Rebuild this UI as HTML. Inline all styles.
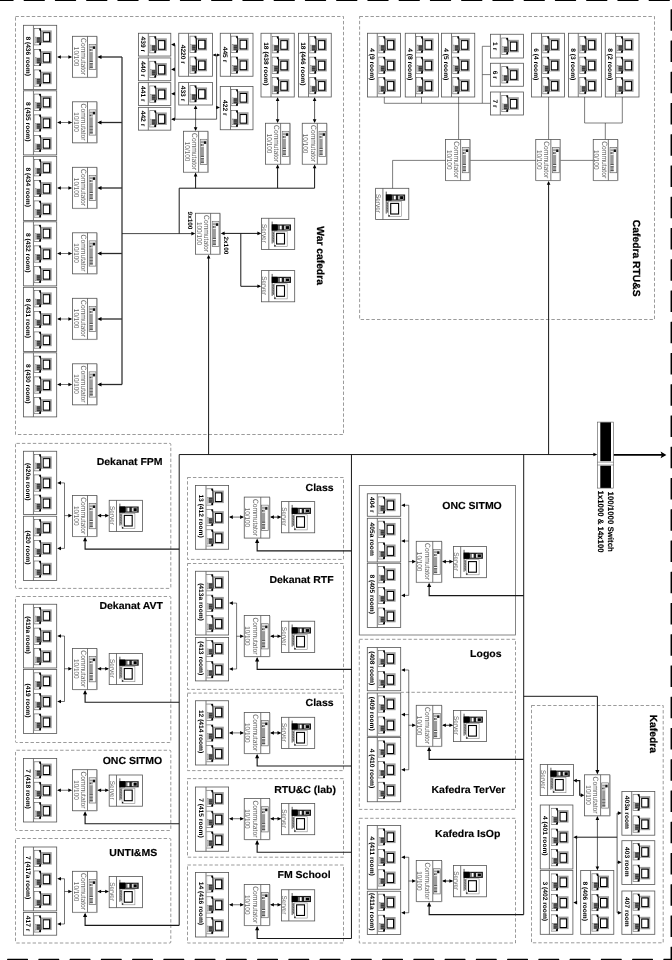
<!DOCTYPE html>
<html lang="en">
<head>
<meta charset="utf-8">
<title>Network diagram</title>
<style>
html,body{margin:0;padding:0;background:#fff;}
body{width:672px;height:960px;overflow:hidden;}
svg{display:block;will-change:transform;}
svg text{font-family:"Liberation Sans",Arial,sans-serif;text-rendering:geometricPrecision;}
</style>
</head>
<body>
<svg width="672" height="960" viewBox="0 0 672 960">
<rect x="0" y="0" width="672" height="960" fill="#fff"/>
<defs>
<g id="pc">
<rect x="1.3" y="-8.1" width="6.1" height="16.3" fill="#fff" stroke="#6a6a6a" stroke-width="0.7"/>
<line x1="1.3" y1="-7.6" x2="1.3" y2="7.8" stroke="#d0d0d0" stroke-width="0.9"/>
<rect x="3.1" y="0.3" width="4.2" height="6.0" fill="#6a6a6a"/>
<rect x="1.9" y="0.3" width="1.2" height="6.0" fill="#ddd" stroke="#888" stroke-width="0.4"/>
<path d="M3.6 1.6h3.4M3.6 3.3h3.4M3.6 5h3.4" stroke="#222" stroke-width="0.7"/>
<path d="M5.6 -8.1 L7.5 -8.1 L7.9 -5.8 L6.4 -5.9 Z" fill="#000"/>
<path d="M6 6.3 L7.9 5.4 L7.6 8.2 L5.8 8.2 Z" fill="#000"/>
<line x1="7.6" y1="-6.2" x2="8" y2="5.8" stroke="#000" stroke-width="1"/>
<rect x="8.3" y="-6.3" width="10.1" height="12.5" fill="#9c9c9c"/>
<rect x="8.5" y="-4.6" width="1.1" height="10.2" fill="#fff"/>
<rect x="9.9" y="-4" width="6.4" height="8.6" fill="#fff" stroke="#000" stroke-width="1"/>
<line x1="16.5" y1="-4.2" x2="16.5" y2="5" stroke="#000" stroke-width="0.7"/>
</g>
<g id="comm">
<rect x="16.8" y="8.1" width="6.7" height="25.2" fill="#fff" stroke="#707070" stroke-width="0.75"/>
<rect x="17.3" y="9.6" width="3.1" height="22.4" fill="#9a9a9a"/>
<rect x="17.3" y="8.6" width="5.7" height="1.4" fill="#ddd"/>
<rect x="17.3" y="11.7" width="3.1" height="0.8" fill="#fff"/>
<rect x="17.3" y="14.7" width="3.1" height="0.8" fill="#fff"/>
<rect x="17.3" y="25.7" width="3.1" height="0.9" fill="#fff"/>
<rect x="17.3" y="13.1" width="1.2" height="1.2" fill="#444"/>
<rect x="17.3" y="24.7" width="3.1" height="0.8" fill="#444"/>
<rect x="17.3" y="27" width="3.1" height="0.8" fill="#555"/>
<rect x="17.3" y="30.6" width="3.1" height="0.8" fill="#444"/>
<rect x="20.4" y="10" width="2.3" height="2.6" fill="#111"/>
</g>
<g id="srv">
<rect x="0" y="0" width="33.2" height="31.2" fill="#fff" stroke="#555" stroke-width="0.8"/>
<line x1="7.3" y1="0" x2="7.3" y2="31.2" stroke="#555" stroke-width="0.8"/>
<rect x="10.1" y="3.3" width="1.1" height="22" fill="#666"/>
<rect x="10.9" y="13.2" width="1.9" height="11.2" fill="#888"/>
<path d="M11 14.5l1.7 1.2M11 17l1.7 1.2M11 19.5l1.7 1.2M11 22l1.7 1.2" stroke="#333" stroke-width="0.5"/>
<rect x="10.3" y="6.2" width="19.2" height="6.1" fill="#1c1c1c"/>
<rect x="10.3" y="6.2" width="5.6" height="6.1" fill="#000"/>
<rect x="18.1" y="7.4" width="2.1" height="3.8" fill="#fff"/>
<rect x="16.6" y="7.2" width="1.2" height="4.2" fill="#777"/>
<rect x="22.6" y="7.4" width="1.4" height="3.8" fill="#ddd"/>
<rect x="24.2" y="7.6" width="3.6" height="3.4" fill="#000" stroke="#ccc" stroke-width="0.6"/>
<rect x="12.8" y="13.2" width="12.9" height="15.1" fill="#fff" stroke="#888" stroke-width="0.6"/>
<rect x="15.1" y="15.1" width="7.9" height="10.6" fill="#fff" stroke="#000" stroke-width="1.1"/>
<rect x="12.9" y="26.8" width="1.2" height="1.4" fill="#000"/>
</g>
</defs>
<rect x="-7.6" y="-1" width="21.2" height="1.9" rx="0.4" fill="#000"/>
<rect x="23.65" y="-1" width="21.2" height="1.9" rx="0.4" fill="#000"/>
<rect x="54.9" y="-1" width="21.2" height="1.9" rx="0.4" fill="#000"/>
<rect x="86.15" y="-1" width="21.2" height="1.9" rx="0.4" fill="#000"/>
<rect x="117.4" y="-1" width="21.2" height="1.9" rx="0.4" fill="#000"/>
<rect x="148.65" y="-1" width="21.2" height="1.9" rx="0.4" fill="#000"/>
<rect x="179.9" y="-1" width="21.2" height="1.9" rx="0.4" fill="#000"/>
<rect x="211.15" y="-1" width="21.2" height="1.9" rx="0.4" fill="#000"/>
<rect x="242.4" y="-1" width="21.2" height="1.9" rx="0.4" fill="#000"/>
<rect x="273.65" y="-1" width="21.2" height="1.9" rx="0.4" fill="#000"/>
<rect x="304.9" y="-1" width="21.2" height="1.9" rx="0.4" fill="#000"/>
<rect x="336.15" y="-1" width="21.2" height="1.9" rx="0.4" fill="#000"/>
<rect x="367.4" y="-1" width="21.2" height="1.9" rx="0.4" fill="#000"/>
<rect x="398.65" y="-1" width="21.2" height="1.9" rx="0.4" fill="#000"/>
<rect x="429.9" y="-1" width="21.2" height="1.9" rx="0.4" fill="#000"/>
<rect x="461.15" y="-1" width="21.2" height="1.9" rx="0.4" fill="#000"/>
<rect x="492.4" y="-1" width="21.2" height="1.9" rx="0.4" fill="#000"/>
<rect x="523.65" y="-1" width="21.2" height="1.9" rx="0.4" fill="#000"/>
<rect x="554.9" y="-1" width="21.2" height="1.9" rx="0.4" fill="#000"/>
<rect x="586.15" y="-1" width="21.2" height="1.9" rx="0.4" fill="#000"/>
<rect x="617.4" y="-1" width="21.2" height="1.9" rx="0.4" fill="#000"/>
<rect x="648.65" y="-1" width="21.2" height="1.9" rx="0.4" fill="#000"/>
<rect x="670.55" y="-22.05" width="2.5" height="21.6" rx="0.4" fill="#000"/>
<rect x="670.55" y="9.2" width="2.5" height="21.6" rx="0.4" fill="#000"/>
<rect x="670.55" y="40.45" width="2.5" height="21.6" rx="0.4" fill="#000"/>
<rect x="670.55" y="71.7" width="2.5" height="21.6" rx="0.4" fill="#000"/>
<rect x="670.55" y="102.95" width="2.5" height="21.6" rx="0.4" fill="#000"/>
<rect x="670.55" y="134.2" width="2.5" height="21.6" rx="0.4" fill="#000"/>
<rect x="670.55" y="165.45" width="2.5" height="21.6" rx="0.4" fill="#000"/>
<rect x="670.55" y="196.7" width="2.5" height="21.6" rx="0.4" fill="#000"/>
<rect x="670.55" y="227.95" width="2.5" height="21.6" rx="0.4" fill="#000"/>
<rect x="670.55" y="259.2" width="2.5" height="21.6" rx="0.4" fill="#000"/>
<rect x="670.55" y="290.45" width="2.5" height="21.6" rx="0.4" fill="#000"/>
<rect x="670.55" y="321.7" width="2.5" height="21.6" rx="0.4" fill="#000"/>
<rect x="670.55" y="352.95" width="2.5" height="21.6" rx="0.4" fill="#000"/>
<rect x="670.55" y="384.2" width="2.5" height="21.6" rx="0.4" fill="#000"/>
<rect x="670.55" y="415.45" width="2.5" height="21.6" rx="0.4" fill="#000"/>
<rect x="670.55" y="446.7" width="2.5" height="21.6" rx="0.4" fill="#000"/>
<rect x="670.55" y="477.95" width="2.5" height="21.6" rx="0.4" fill="#000"/>
<rect x="670.55" y="509.2" width="2.5" height="21.6" rx="0.4" fill="#000"/>
<rect x="670.55" y="540.45" width="2.5" height="21.6" rx="0.4" fill="#000"/>
<rect x="670.55" y="571.7" width="2.5" height="21.6" rx="0.4" fill="#000"/>
<rect x="670.55" y="602.95" width="2.5" height="21.6" rx="0.4" fill="#000"/>
<rect x="670.55" y="634.2" width="2.5" height="21.6" rx="0.4" fill="#000"/>
<rect x="670.55" y="665.45" width="2.5" height="21.6" rx="0.4" fill="#000"/>
<rect x="670.55" y="696.7" width="2.5" height="21.6" rx="0.4" fill="#000"/>
<rect x="670.55" y="727.95" width="2.5" height="21.6" rx="0.4" fill="#000"/>
<rect x="670.55" y="759.2" width="2.5" height="21.6" rx="0.4" fill="#000"/>
<rect x="670.55" y="790.45" width="2.5" height="21.6" rx="0.4" fill="#000"/>
<rect x="670.55" y="821.7" width="2.5" height="21.6" rx="0.4" fill="#000"/>
<rect x="670.55" y="852.95" width="2.5" height="21.6" rx="0.4" fill="#000"/>
<rect x="670.55" y="884.2" width="2.5" height="21.6" rx="0.4" fill="#000"/>
<rect x="670.55" y="915.45" width="2.5" height="21.6" rx="0.4" fill="#000"/>
<rect x="670.55" y="946.7" width="2.5" height="21.6" rx="0.4" fill="#000"/>
<rect x="7.1" y="958.85" width="20.9" height="2" rx="0.4" fill="#000"/>
<rect x="38.35" y="958.85" width="20.9" height="2" rx="0.4" fill="#000"/>
<rect x="69.6" y="958.85" width="20.9" height="2" rx="0.4" fill="#000"/>
<rect x="100.85" y="958.85" width="20.9" height="2" rx="0.4" fill="#000"/>
<rect x="132.1" y="958.85" width="20.9" height="2" rx="0.4" fill="#000"/>
<rect x="163.35" y="958.85" width="20.9" height="2" rx="0.4" fill="#000"/>
<rect x="194.6" y="958.85" width="20.9" height="2" rx="0.4" fill="#000"/>
<rect x="225.85" y="958.85" width="20.9" height="2" rx="0.4" fill="#000"/>
<rect x="257.1" y="958.85" width="20.9" height="2" rx="0.4" fill="#000"/>
<rect x="288.35" y="958.85" width="20.9" height="2" rx="0.4" fill="#000"/>
<rect x="319.6" y="958.85" width="20.9" height="2" rx="0.4" fill="#000"/>
<rect x="350.85" y="958.85" width="20.9" height="2" rx="0.4" fill="#000"/>
<rect x="382.1" y="958.85" width="20.9" height="2" rx="0.4" fill="#000"/>
<rect x="413.35" y="958.85" width="20.9" height="2" rx="0.4" fill="#000"/>
<rect x="444.6" y="958.85" width="20.9" height="2" rx="0.4" fill="#000"/>
<rect x="475.85" y="958.85" width="20.9" height="2" rx="0.4" fill="#000"/>
<rect x="507.1" y="958.85" width="20.9" height="2" rx="0.4" fill="#000"/>
<rect x="538.35" y="958.85" width="20.9" height="2" rx="0.4" fill="#000"/>
<rect x="569.6" y="958.85" width="20.9" height="2" rx="0.4" fill="#000"/>
<rect x="600.85" y="958.85" width="20.9" height="2" rx="0.4" fill="#000"/>
<rect x="632.1" y="958.85" width="20.9" height="2" rx="0.4" fill="#000"/>
<rect x="663.35" y="958.85" width="20.9" height="2" rx="0.4" fill="#000"/>
<rect x="15.5" y="16.5" width="328" height="418" fill="none" stroke="#707070" stroke-width="0.7" stroke-dasharray="3.4 2.05"/>
<rect x="23.4" y="25.3" width="33.3" height="64.1" fill="none" stroke="#555" stroke-width="0.8"/>
<line x1="33.45" y1="25.3" x2="33.45" y2="89.4" stroke="#555" stroke-width="0.8"/>
<text transform="translate(26.22 36.38) rotate(90)" textLength="39.54" lengthAdjust="spacingAndGlyphs" font-size="6.55" font-weight="bold" stroke="#000" stroke-width="0" fill="#000">8 (436 room)</text>
<use href="#pc" x="33.3" y="36.7"/>
<use href="#pc" x="33.3" y="57.45"/>
<use href="#pc" x="33.3" y="78"/>
<rect x="72.4" y="36.3" width="24.4" height="41" fill="#fff" stroke="#555" stroke-width="0.8"/>
<line x1="97.1" y1="36.6" x2="97.1" y2="77.6" stroke="#a0a0a0" stroke-width="1.0"/>
<line x1="72.7" y1="77.6" x2="97.1" y2="77.6" stroke="#b0b0b0" stroke-width="0.5"/>
<line x1="87.5" y1="36.3" x2="87.5" y2="77.3" stroke="#555" stroke-width="0.8"/>
<use href="#comm" x="72.4" y="36.3"/>
<text transform="translate(80.83 38.1) rotate(90)" textLength="37" lengthAdjust="spacingAndGlyphs" font-size="7.7" fill="#666">Commutator</text>
<text transform="translate(73.54 46.85) rotate(90)" textLength="19.5" lengthAdjust="spacingAndGlyphs" font-size="7.1" fill="#666">10/100</text>
<line x1="58.1" y1="57" x2="71.2" y2="57" stroke="#181818" stroke-width="0.6"/>
<polygon points="57.1,57 60.9,55.2 60.9,58.8" fill="#000"/>
<polygon points="72.2,57 68.4,55.2 68.4,58.8" fill="#000"/>
<line x1="99" y1="57" x2="122" y2="57" stroke="#2a2a2a" stroke-width="1.3"/>
<polygon points="97.3,57 101.5,54.9 101.5,59.1" fill="#000"/>
<rect x="23.4" y="90.8" width="33.3" height="64.1" fill="none" stroke="#555" stroke-width="0.8"/>
<line x1="33.45" y1="90.8" x2="33.45" y2="154.9" stroke="#555" stroke-width="0.8"/>
<text transform="translate(26.22 101.88) rotate(90)" textLength="39.54" lengthAdjust="spacingAndGlyphs" font-size="6.55" font-weight="bold" stroke="#000" stroke-width="0" fill="#000">8 (435 room)</text>
<use href="#pc" x="33.3" y="102.2"/>
<use href="#pc" x="33.3" y="122.95"/>
<use href="#pc" x="33.3" y="143.5"/>
<rect x="72.4" y="101.8" width="24.4" height="41" fill="#fff" stroke="#555" stroke-width="0.8"/>
<line x1="97.1" y1="102.1" x2="97.1" y2="143.1" stroke="#a0a0a0" stroke-width="1.0"/>
<line x1="72.7" y1="143.1" x2="97.1" y2="143.1" stroke="#b0b0b0" stroke-width="0.5"/>
<line x1="87.5" y1="101.8" x2="87.5" y2="142.8" stroke="#555" stroke-width="0.8"/>
<use href="#comm" x="72.4" y="101.8"/>
<text transform="translate(80.83 103.6) rotate(90)" textLength="37" lengthAdjust="spacingAndGlyphs" font-size="7.7" fill="#666">Commutator</text>
<text transform="translate(73.54 112.35) rotate(90)" textLength="19.5" lengthAdjust="spacingAndGlyphs" font-size="7.1" fill="#666">10/100</text>
<line x1="58.1" y1="122.5" x2="71.2" y2="122.5" stroke="#181818" stroke-width="0.6"/>
<polygon points="57.1,122.5 60.9,120.7 60.9,124.3" fill="#000"/>
<polygon points="72.2,122.5 68.4,120.7 68.4,124.3" fill="#000"/>
<line x1="99" y1="122.5" x2="122" y2="122.5" stroke="#2a2a2a" stroke-width="1.3"/>
<polygon points="97.3,122.5 101.5,120.4 101.5,124.6" fill="#000"/>
<rect x="23.4" y="156.3" width="33.3" height="64.1" fill="none" stroke="#555" stroke-width="0.8"/>
<line x1="33.45" y1="156.3" x2="33.45" y2="220.4" stroke="#555" stroke-width="0.8"/>
<text transform="translate(26.22 167.38) rotate(90)" textLength="39.54" lengthAdjust="spacingAndGlyphs" font-size="6.55" font-weight="bold" stroke="#000" stroke-width="0" fill="#000">8 (434 room)</text>
<use href="#pc" x="33.3" y="167.7"/>
<use href="#pc" x="33.3" y="188.45"/>
<use href="#pc" x="33.3" y="209"/>
<rect x="72.4" y="167.3" width="24.4" height="41" fill="#fff" stroke="#555" stroke-width="0.8"/>
<line x1="97.1" y1="167.6" x2="97.1" y2="208.6" stroke="#a0a0a0" stroke-width="1.0"/>
<line x1="72.7" y1="208.6" x2="97.1" y2="208.6" stroke="#b0b0b0" stroke-width="0.5"/>
<line x1="87.5" y1="167.3" x2="87.5" y2="208.3" stroke="#555" stroke-width="0.8"/>
<use href="#comm" x="72.4" y="167.3"/>
<text transform="translate(80.83 169.1) rotate(90)" textLength="37" lengthAdjust="spacingAndGlyphs" font-size="7.7" fill="#666">Commutator</text>
<text transform="translate(73.54 177.85) rotate(90)" textLength="19.5" lengthAdjust="spacingAndGlyphs" font-size="7.1" fill="#666">10/100</text>
<line x1="58.1" y1="188" x2="71.2" y2="188" stroke="#181818" stroke-width="0.6"/>
<polygon points="57.1,188 60.9,186.2 60.9,189.8" fill="#000"/>
<polygon points="72.2,188 68.4,186.2 68.4,189.8" fill="#000"/>
<line x1="99" y1="188" x2="122" y2="188" stroke="#2a2a2a" stroke-width="1.3"/>
<polygon points="97.3,188 101.5,185.9 101.5,190.1" fill="#000"/>
<rect x="23.4" y="221.8" width="33.3" height="64.1" fill="none" stroke="#555" stroke-width="0.8"/>
<line x1="33.45" y1="221.8" x2="33.45" y2="285.9" stroke="#555" stroke-width="0.8"/>
<text transform="translate(26.22 232.88) rotate(90)" textLength="39.54" lengthAdjust="spacingAndGlyphs" font-size="6.55" font-weight="bold" stroke="#000" stroke-width="0" fill="#000">8 (432 room)</text>
<use href="#pc" x="33.3" y="233.2"/>
<use href="#pc" x="33.3" y="253.95"/>
<use href="#pc" x="33.3" y="274.5"/>
<rect x="72.4" y="232.8" width="24.4" height="41" fill="#fff" stroke="#555" stroke-width="0.8"/>
<line x1="97.1" y1="233.1" x2="97.1" y2="274.1" stroke="#a0a0a0" stroke-width="1.0"/>
<line x1="72.7" y1="274.1" x2="97.1" y2="274.1" stroke="#b0b0b0" stroke-width="0.5"/>
<line x1="87.5" y1="232.8" x2="87.5" y2="273.8" stroke="#555" stroke-width="0.8"/>
<use href="#comm" x="72.4" y="232.8"/>
<text transform="translate(80.83 234.6) rotate(90)" textLength="37" lengthAdjust="spacingAndGlyphs" font-size="7.7" fill="#666">Commutator</text>
<text transform="translate(73.54 243.35) rotate(90)" textLength="19.5" lengthAdjust="spacingAndGlyphs" font-size="7.1" fill="#666">10/100</text>
<line x1="58.1" y1="253.5" x2="71.2" y2="253.5" stroke="#181818" stroke-width="0.6"/>
<polygon points="57.1,253.5 60.9,251.7 60.9,255.3" fill="#000"/>
<polygon points="72.2,253.5 68.4,251.7 68.4,255.3" fill="#000"/>
<line x1="99" y1="253.5" x2="122" y2="253.5" stroke="#2a2a2a" stroke-width="1.3"/>
<polygon points="97.3,253.5 101.5,251.4 101.5,255.6" fill="#000"/>
<rect x="23.4" y="287.3" width="33.3" height="64.1" fill="none" stroke="#555" stroke-width="0.8"/>
<line x1="33.45" y1="287.3" x2="33.45" y2="351.4" stroke="#555" stroke-width="0.8"/>
<text transform="translate(26.22 298.38) rotate(90)" textLength="39.54" lengthAdjust="spacingAndGlyphs" font-size="6.55" font-weight="bold" stroke="#000" stroke-width="0" fill="#000">8 (431 room)</text>
<use href="#pc" x="33.3" y="298.7"/>
<use href="#pc" x="33.3" y="319.45"/>
<use href="#pc" x="33.3" y="340"/>
<rect x="72.4" y="298.3" width="24.4" height="41" fill="#fff" stroke="#555" stroke-width="0.8"/>
<line x1="97.1" y1="298.6" x2="97.1" y2="339.6" stroke="#a0a0a0" stroke-width="1.0"/>
<line x1="72.7" y1="339.6" x2="97.1" y2="339.6" stroke="#b0b0b0" stroke-width="0.5"/>
<line x1="87.5" y1="298.3" x2="87.5" y2="339.3" stroke="#555" stroke-width="0.8"/>
<use href="#comm" x="72.4" y="298.3"/>
<text transform="translate(80.83 300.1) rotate(90)" textLength="37" lengthAdjust="spacingAndGlyphs" font-size="7.7" fill="#666">Commutator</text>
<text transform="translate(73.54 308.85) rotate(90)" textLength="19.5" lengthAdjust="spacingAndGlyphs" font-size="7.1" fill="#666">10/100</text>
<line x1="58.1" y1="319" x2="71.2" y2="319" stroke="#181818" stroke-width="0.6"/>
<polygon points="57.1,319 60.9,317.2 60.9,320.8" fill="#000"/>
<polygon points="72.2,319 68.4,317.2 68.4,320.8" fill="#000"/>
<line x1="99" y1="319" x2="122" y2="319" stroke="#2a2a2a" stroke-width="1.3"/>
<polygon points="97.3,319 101.5,316.9 101.5,321.1" fill="#000"/>
<rect x="23.4" y="352.8" width="33.3" height="64.1" fill="none" stroke="#555" stroke-width="0.8"/>
<line x1="33.45" y1="352.8" x2="33.45" y2="416.9" stroke="#555" stroke-width="0.8"/>
<text transform="translate(26.22 363.88) rotate(90)" textLength="39.54" lengthAdjust="spacingAndGlyphs" font-size="6.55" font-weight="bold" stroke="#000" stroke-width="0" fill="#000">8 (430 room)</text>
<use href="#pc" x="33.3" y="364.2"/>
<use href="#pc" x="33.3" y="384.95"/>
<use href="#pc" x="33.3" y="405.5"/>
<rect x="72.4" y="363.8" width="24.4" height="41" fill="#fff" stroke="#555" stroke-width="0.8"/>
<line x1="97.1" y1="364.1" x2="97.1" y2="405.1" stroke="#a0a0a0" stroke-width="1.0"/>
<line x1="72.7" y1="405.1" x2="97.1" y2="405.1" stroke="#b0b0b0" stroke-width="0.5"/>
<line x1="87.5" y1="363.8" x2="87.5" y2="404.8" stroke="#555" stroke-width="0.8"/>
<use href="#comm" x="72.4" y="363.8"/>
<text transform="translate(80.83 365.6) rotate(90)" textLength="37" lengthAdjust="spacingAndGlyphs" font-size="7.7" fill="#666">Commutator</text>
<text transform="translate(73.54 374.35) rotate(90)" textLength="19.5" lengthAdjust="spacingAndGlyphs" font-size="7.1" fill="#666">10/100</text>
<line x1="58.1" y1="384.5" x2="71.2" y2="384.5" stroke="#181818" stroke-width="0.6"/>
<polygon points="57.1,384.5 60.9,382.7 60.9,386.3" fill="#000"/>
<polygon points="72.2,384.5 68.4,382.7 68.4,386.3" fill="#000"/>
<line x1="99" y1="384.5" x2="122" y2="384.5" stroke="#2a2a2a" stroke-width="1.3"/>
<polygon points="97.3,384.5 101.5,382.4 101.5,386.6" fill="#000"/>
<line x1="122" y1="57" x2="122" y2="384.5" stroke="#333" stroke-width="1.3"/>
<line x1="122" y1="233.6" x2="194" y2="233.6" stroke="#181818" stroke-width="0.8"/>
<polygon points="195.2,233.6 191.4,231.8 191.4,235.4" fill="#000"/>
<rect x="138.5" y="33.25" width="32.3" height="22.8" fill="none" stroke="#555" stroke-width="0.8"/>
<line x1="148.3" y1="33.25" x2="148.3" y2="56.05" stroke="#555" stroke-width="0.8"/>
<text transform="translate(141.19 36.62) rotate(90)" textLength="15.71" lengthAdjust="spacingAndGlyphs" font-size="6.55" font-weight="bold" stroke="#000" stroke-width="0" fill="#000">439 г</text>
<use href="#pc" x="148.4" y="44.65"/>
<rect x="138.5" y="57.95" width="32.3" height="22.8" fill="none" stroke="#555" stroke-width="0.8"/>
<line x1="148.3" y1="57.95" x2="148.3" y2="80.75" stroke="#555" stroke-width="0.8"/>
<text transform="translate(141.19 61.32) rotate(90)" textLength="15.71" lengthAdjust="spacingAndGlyphs" font-size="6.55" font-weight="bold" stroke="#000" stroke-width="0" fill="#000">440 г</text>
<use href="#pc" x="148.4" y="69.35"/>
<rect x="138.5" y="82.65" width="32.3" height="22.8" fill="none" stroke="#555" stroke-width="0.8"/>
<line x1="148.3" y1="82.65" x2="148.3" y2="105.45" stroke="#555" stroke-width="0.8"/>
<text transform="translate(141.19 86.02) rotate(90)" textLength="15.71" lengthAdjust="spacingAndGlyphs" font-size="6.55" font-weight="bold" stroke="#000" stroke-width="0" fill="#000">441 г</text>
<use href="#pc" x="148.4" y="94.05"/>
<rect x="138.5" y="107.35" width="32.3" height="22.8" fill="none" stroke="#555" stroke-width="0.8"/>
<line x1="148.3" y1="107.35" x2="148.3" y2="130.15" stroke="#555" stroke-width="0.8"/>
<text transform="translate(141.19 110.72) rotate(90)" textLength="15.71" lengthAdjust="spacingAndGlyphs" font-size="6.55" font-weight="bold" stroke="#000" stroke-width="0" fill="#000">442 г</text>
<use href="#pc" x="148.4" y="118.75"/>
<rect x="178.75" y="33.25" width="33.75" height="43" fill="none" stroke="#555" stroke-width="0.8"/>
<line x1="188.5" y1="33.25" x2="188.5" y2="76.25" stroke="#555" stroke-width="0.8"/>
<text transform="translate(181.42 44.71) rotate(90)" textLength="19.41" lengthAdjust="spacingAndGlyphs" font-size="6.55" font-weight="bold" stroke="#000" stroke-width="0" fill="#000">4220 г</text>
<use href="#pc" x="188.65" y="44.25"/>
<use href="#pc" x="188.65" y="65.05"/>
<rect x="178.75" y="82.5" width="33.75" height="22.5" fill="none" stroke="#555" stroke-width="0.8"/>
<line x1="188.5" y1="82.5" x2="188.5" y2="105" stroke="#555" stroke-width="0.8"/>
<text transform="translate(181.42 85.72) rotate(90)" textLength="15.71" lengthAdjust="spacingAndGlyphs" font-size="6.55" font-weight="bold" stroke="#000" stroke-width="0" fill="#000">433 г</text>
<use href="#pc" x="188.65" y="93.75"/>
<rect x="220.25" y="33.25" width="32.75" height="43" fill="none" stroke="#555" stroke-width="0.8"/>
<line x1="230.5" y1="33.25" x2="230.5" y2="76.25" stroke="#555" stroke-width="0.8"/>
<text transform="translate(223.17 46.72) rotate(90)" textLength="15.71" lengthAdjust="spacingAndGlyphs" font-size="6.55" font-weight="bold" stroke="#000" stroke-width="0" fill="#000">445 г</text>
<use href="#pc" x="230.15" y="44.25"/>
<use href="#pc" x="230.15" y="65.05"/>
<rect x="220.25" y="86.5" width="32.75" height="43.25" fill="none" stroke="#555" stroke-width="0.8"/>
<line x1="230.5" y1="86.5" x2="230.5" y2="129.75" stroke="#555" stroke-width="0.8"/>
<text transform="translate(223.17 100.09) rotate(90)" textLength="15.71" lengthAdjust="spacingAndGlyphs" font-size="6.55" font-weight="bold" stroke="#000" stroke-width="0" fill="#000">422 г</text>
<use href="#pc" x="230.15" y="97.5"/>
<use href="#pc" x="230.15" y="118.55"/>
<rect x="261" y="33.25" width="33.25" height="63.75" fill="none" stroke="#555" stroke-width="0.8"/>
<line x1="271" y1="33.25" x2="271" y2="97" stroke="#555" stroke-width="0.8"/>
<text transform="translate(263.79 42.15) rotate(90)" textLength="43.24" lengthAdjust="spacingAndGlyphs" font-size="6.55" font-weight="bold" stroke="#000" stroke-width="0" fill="#000">18 (438 room)</text>
<use href="#pc" x="270.9" y="44.65"/>
<use href="#pc" x="270.9" y="65.22"/>
<use href="#pc" x="270.9" y="85.6"/>
<rect x="298.5" y="33.25" width="32.75" height="63.75" fill="none" stroke="#555" stroke-width="0.8"/>
<line x1="308.5" y1="33.25" x2="308.5" y2="97" stroke="#555" stroke-width="0.8"/>
<text transform="translate(301.29 42.15) rotate(90)" textLength="43.24" lengthAdjust="spacingAndGlyphs" font-size="6.55" font-weight="bold" stroke="#000" stroke-width="0" fill="#000">18 (446 room)</text>
<use href="#pc" x="308.4" y="44.65"/>
<use href="#pc" x="308.4" y="65.22"/>
<use href="#pc" x="308.4" y="85.6"/>
<line x1="175" y1="44.6" x2="175" y2="119.2" stroke="#181818" stroke-width="0.7"/>
<line x1="172" y1="44.6" x2="175" y2="44.6" stroke="#181818" stroke-width="0.7"/>
<polygon points="171.1,44.6 174.9,42.8 174.9,46.4" fill="#000"/>
<line x1="172" y1="69.4" x2="175" y2="69.4" stroke="#181818" stroke-width="0.7"/>
<polygon points="171.1,69.4 174.9,67.6 174.9,71.2" fill="#000"/>
<line x1="172" y1="93.8" x2="175" y2="93.8" stroke="#181818" stroke-width="0.7"/>
<polygon points="171.1,93.8 174.9,92 174.9,95.6" fill="#000"/>
<line x1="172" y1="119.2" x2="175" y2="119.2" stroke="#181818" stroke-width="0.7"/>
<polygon points="171.1,119.2 174.9,117.4 174.9,121" fill="#000"/>
<line x1="175" y1="119.2" x2="216.6" y2="119.2" stroke="#181818" stroke-width="0.7"/>
<line x1="216.6" y1="55" x2="216.6" y2="119.2" stroke="#181818" stroke-width="0.7"/>
<line x1="213.5" y1="55" x2="219.5" y2="55" stroke="#181818" stroke-width="0.7"/>
<polygon points="212.8,55 215.8,53.5 215.8,56.5" fill="#000"/>
<polygon points="220,55 217,53.5 217,56.5" fill="#000"/>
<line x1="216.6" y1="107.5" x2="219" y2="107.5" stroke="#181818" stroke-width="0.7"/>
<polygon points="220,107.5 216.2,105.7 216.2,109.3" fill="#000"/>
<rect x="183.5" y="131.25" width="24.4" height="41" fill="#fff" stroke="#555" stroke-width="0.8"/>
<line x1="208.2" y1="131.55" x2="208.2" y2="172.55" stroke="#a0a0a0" stroke-width="1.0"/>
<line x1="183.8" y1="172.55" x2="208.2" y2="172.55" stroke="#b0b0b0" stroke-width="0.5"/>
<line x1="198.6" y1="131.25" x2="198.6" y2="172.25" stroke="#555" stroke-width="0.8"/>
<use href="#comm" x="183.5" y="131.25"/>
<text transform="translate(191.93 133.05) rotate(90)" textLength="37" lengthAdjust="spacingAndGlyphs" font-size="7.7" fill="#666">Commutator</text>
<text transform="translate(184.64 141.8) rotate(90)" textLength="19.5" lengthAdjust="spacingAndGlyphs" font-size="7.1" fill="#666">10/100</text>
<rect x="265.5" y="123.25" width="24.4" height="41" fill="#fff" stroke="#555" stroke-width="0.8"/>
<line x1="290.2" y1="123.55" x2="290.2" y2="164.55" stroke="#a0a0a0" stroke-width="1.0"/>
<line x1="265.8" y1="164.55" x2="290.2" y2="164.55" stroke="#b0b0b0" stroke-width="0.5"/>
<line x1="280.6" y1="123.25" x2="280.6" y2="164.25" stroke="#555" stroke-width="0.8"/>
<use href="#comm" x="265.5" y="123.25"/>
<text transform="translate(273.93 125.05) rotate(90)" textLength="37" lengthAdjust="spacingAndGlyphs" font-size="7.7" fill="#666">Commutator</text>
<text transform="translate(266.64 133.8) rotate(90)" textLength="19.5" lengthAdjust="spacingAndGlyphs" font-size="7.1" fill="#666">10/100</text>
<rect x="302.25" y="123.25" width="24.4" height="41" fill="#fff" stroke="#555" stroke-width="0.8"/>
<line x1="326.95" y1="123.55" x2="326.95" y2="164.55" stroke="#a0a0a0" stroke-width="1.0"/>
<line x1="302.55" y1="164.55" x2="326.95" y2="164.55" stroke="#b0b0b0" stroke-width="0.5"/>
<line x1="317.35" y1="123.25" x2="317.35" y2="164.25" stroke="#555" stroke-width="0.8"/>
<use href="#comm" x="302.25" y="123.25"/>
<text transform="translate(310.68 125.05) rotate(90)" textLength="37" lengthAdjust="spacingAndGlyphs" font-size="7.7" fill="#666">Commutator</text>
<text transform="translate(303.39 133.8) rotate(90)" textLength="19.5" lengthAdjust="spacingAndGlyphs" font-size="7.1" fill="#666">10/100</text>
<line x1="195.6" y1="106.3" x2="195.6" y2="130" stroke="#181818" stroke-width="0.7"/>
<polygon points="195.6,105.3 193.8,109.1 197.4,109.1" fill="#000"/>
<polygon points="195.6,131 193.8,127.2 197.4,127.2" fill="#000"/>
<line x1="277.6" y1="98.3" x2="277.6" y2="122" stroke="#181818" stroke-width="0.7"/>
<polygon points="277.6,97.3 275.8,101.1 279.4,101.1" fill="#000"/>
<polygon points="277.6,123 275.8,119.2 279.4,119.2" fill="#000"/>
<line x1="314.6" y1="98.3" x2="314.6" y2="122" stroke="#181818" stroke-width="0.7"/>
<polygon points="314.6,97.3 312.8,101.1 316.4,101.1" fill="#000"/>
<polygon points="314.6,123 312.8,119.2 316.4,119.2" fill="#000"/>
<polyline points="314.6,165.5 314.6,188.2 179.2,188.2 179.2,233.6" fill="none" stroke="#181818" stroke-width="1.0"/>
<line x1="195.6" y1="173.6" x2="195.6" y2="188.2" stroke="#181818" stroke-width="1.0"/>
<line x1="277.6" y1="165.5" x2="277.6" y2="188.2" stroke="#181818" stroke-width="1.0"/>
<polygon points="195.6,172.6 193.8,176.4 197.4,176.4" fill="#000"/>
<polygon points="277.6,164.5 275.8,168.3 279.4,168.3" fill="#000"/>
<polygon points="314.6,164.5 312.8,168.3 316.4,168.3" fill="#000"/>
<rect x="195.5" y="213.25" width="24.4" height="41" fill="#fff" stroke="#555" stroke-width="0.8"/>
<line x1="220.2" y1="213.55" x2="220.2" y2="254.55" stroke="#a0a0a0" stroke-width="1.0"/>
<line x1="195.8" y1="254.55" x2="220.2" y2="254.55" stroke="#b0b0b0" stroke-width="0.5"/>
<line x1="210.6" y1="213.25" x2="210.6" y2="254.25" stroke="#555" stroke-width="0.8"/>
<use href="#comm" x="195.5" y="213.25"/>
<text transform="translate(203.93 215.05) rotate(90)" textLength="37" lengthAdjust="spacingAndGlyphs" font-size="7.7" fill="#666">Commutator</text>
<text transform="translate(196.64 222.05) rotate(90)" textLength="23" lengthAdjust="spacingAndGlyphs" font-size="7.1" fill="#666">100/100</text>
<text transform="translate(187.5 220.5) rotate(90)" text-anchor="middle" font-size="6.4" font-weight="bold" stroke="#000" stroke-width="0" fill="#000">9x100</text>
<text transform="translate(224.2 245.4) rotate(90)" text-anchor="middle" font-size="6.4" font-weight="bold" stroke="#000" stroke-width="0" fill="#000">2x100</text>
<use href="#srv" x="261.5" y="218.25"/>
<text transform="translate(262.38 223.9) rotate(90)" textLength="18.9" lengthAdjust="spacingAndGlyphs" font-size="7.0" fill="#666">Server</text>
<use href="#srv" x="261.5" y="270.6"/>
<text transform="translate(262.38 276.25) rotate(90)" textLength="18.9" lengthAdjust="spacingAndGlyphs" font-size="7.0" fill="#666">Server</text>
<line x1="222" y1="233.4" x2="260" y2="233.4" stroke="#181818" stroke-width="1.0"/>
<polygon points="220.8,233.4 224.6,231.6 224.6,235.2" fill="#000"/>
<polygon points="261.2,233.4 257.4,231.6 257.4,235.2" fill="#000"/>
<polyline points="240.8,233.4 240.8,286.3 260,286.3" fill="none" stroke="#181818" stroke-width="1.0"/>
<polygon points="261.2,286.3 257.4,284.5 257.4,288.1" fill="#000"/>
<text transform="translate(317.29 255.6) rotate(90)" text-anchor="middle" font-size="10.3" font-weight="bold" stroke="#000" stroke-width="0.22" fill="#000">War cafedra</text>
<line x1="208.6" y1="256" x2="208.6" y2="454.55" stroke="#181818" stroke-width="1.0"/>
<polygon points="208.6,254.8 206.8,258.6 210.4,258.6" fill="#000"/>
<rect x="359.6" y="16.5" width="294.9" height="303" fill="none" stroke="#707070" stroke-width="0.7" stroke-dasharray="3.4 2.05"/>
<rect x="367.5" y="33.25" width="33" height="63.75" fill="none" stroke="#555" stroke-width="0.8"/>
<line x1="377.25" y1="33.25" x2="377.25" y2="97" stroke="#555" stroke-width="0.8"/>
<text transform="translate(370.17 48.17) rotate(90)" textLength="32.14" lengthAdjust="spacingAndGlyphs" font-size="6.55" font-weight="bold" stroke="#000" stroke-width="0" fill="#000">4 (9 room)</text>
<use href="#pc" x="377.4" y="44.65"/>
<use href="#pc" x="377.4" y="65.22"/>
<use href="#pc" x="377.4" y="85.6"/>
<rect x="405.25" y="33.25" width="33.25" height="63.75" fill="none" stroke="#555" stroke-width="0.8"/>
<line x1="415.5" y1="33.25" x2="415.5" y2="97" stroke="#555" stroke-width="0.8"/>
<text transform="translate(408.17 48.17) rotate(90)" textLength="32.14" lengthAdjust="spacingAndGlyphs" font-size="6.55" font-weight="bold" stroke="#000" stroke-width="0" fill="#000">4 (8 room)</text>
<use href="#pc" x="415.15" y="44.65"/>
<use href="#pc" x="415.15" y="65.22"/>
<use href="#pc" x="415.15" y="85.6"/>
<rect x="441.5" y="33.25" width="33.25" height="63.75" fill="none" stroke="#555" stroke-width="0.8"/>
<line x1="451.5" y1="33.25" x2="451.5" y2="97" stroke="#555" stroke-width="0.8"/>
<text transform="translate(444.29 48.17) rotate(90)" textLength="32.14" lengthAdjust="spacingAndGlyphs" font-size="6.55" font-weight="bold" stroke="#000" stroke-width="0" fill="#000">4 (5 room)</text>
<use href="#pc" x="451.4" y="44.65"/>
<use href="#pc" x="451.4" y="65.22"/>
<use href="#pc" x="451.4" y="85.6"/>
<rect x="490.5" y="34.25" width="33" height="23.75" fill="none" stroke="#555" stroke-width="0.8"/>
<line x1="500.3" y1="34.25" x2="500.3" y2="58" stroke="#555" stroke-width="0.8"/>
<text transform="translate(493.19 42.11) rotate(90)" textLength="8.32" lengthAdjust="spacingAndGlyphs" font-size="6.55" font-weight="bold" stroke="#000" stroke-width="0" fill="#000">1 г</text>
<use href="#pc" x="500.4" y="46.12"/>
<rect x="490.5" y="63.25" width="33" height="23" fill="none" stroke="#555" stroke-width="0.8"/>
<line x1="500.3" y1="63.25" x2="500.3" y2="86.25" stroke="#555" stroke-width="0.8"/>
<text transform="translate(493.19 70.73) rotate(90)" textLength="8.32" lengthAdjust="spacingAndGlyphs" font-size="6.55" font-weight="bold" stroke="#000" stroke-width="0" fill="#000">6 г</text>
<use href="#pc" x="500.4" y="74.75"/>
<rect x="490.5" y="92" width="33" height="23" fill="none" stroke="#555" stroke-width="0.8"/>
<line x1="500.3" y1="92" x2="500.3" y2="115" stroke="#555" stroke-width="0.8"/>
<text transform="translate(493.19 99.48) rotate(90)" textLength="8.32" lengthAdjust="spacingAndGlyphs" font-size="6.55" font-weight="bold" stroke="#000" stroke-width="0" fill="#000">7 г</text>
<use href="#pc" x="500.4" y="103.5"/>
<rect x="531.5" y="33.25" width="33" height="63.75" fill="none" stroke="#555" stroke-width="0.8"/>
<line x1="541.5" y1="33.25" x2="541.5" y2="97" stroke="#555" stroke-width="0.8"/>
<text transform="translate(534.29 48.17) rotate(90)" textLength="32.14" lengthAdjust="spacingAndGlyphs" font-size="6.55" font-weight="bold" stroke="#000" stroke-width="0" fill="#000">6 (4 room)</text>
<use href="#pc" x="541.4" y="44.65"/>
<use href="#pc" x="541.4" y="65.22"/>
<use href="#pc" x="541.4" y="85.6"/>
<rect x="568.5" y="33.25" width="33" height="63.75" fill="none" stroke="#555" stroke-width="0.8"/>
<line x1="578.25" y1="33.25" x2="578.25" y2="97" stroke="#555" stroke-width="0.8"/>
<text transform="translate(571.17 48.17) rotate(90)" textLength="32.14" lengthAdjust="spacingAndGlyphs" font-size="6.55" font-weight="bold" stroke="#000" stroke-width="0" fill="#000">8 (3 room)</text>
<use href="#pc" x="578.4" y="44.65"/>
<use href="#pc" x="578.4" y="65.22"/>
<use href="#pc" x="578.4" y="85.6"/>
<rect x="605.25" y="33.25" width="33.75" height="63.75" fill="none" stroke="#555" stroke-width="0.8"/>
<line x1="615.5" y1="33.25" x2="615.5" y2="97" stroke="#555" stroke-width="0.8"/>
<text transform="translate(608.17 48.17) rotate(90)" textLength="32.14" lengthAdjust="spacingAndGlyphs" font-size="6.55" font-weight="bold" stroke="#000" stroke-width="0" fill="#000">8 (2 room)</text>
<use href="#pc" x="615.15" y="44.65"/>
<use href="#pc" x="615.15" y="65.22"/>
<use href="#pc" x="615.15" y="85.6"/>
<rect x="445.5" y="139.4" width="24.4" height="41" fill="#fff" stroke="#555" stroke-width="0.8"/>
<line x1="470.2" y1="139.7" x2="470.2" y2="180.7" stroke="#a0a0a0" stroke-width="1.0"/>
<line x1="445.8" y1="180.7" x2="470.2" y2="180.7" stroke="#b0b0b0" stroke-width="0.5"/>
<line x1="460.6" y1="139.4" x2="460.6" y2="180.4" stroke="#555" stroke-width="0.8"/>
<use href="#comm" x="445.5" y="139.4"/>
<text transform="translate(453.93 141.2) rotate(90)" textLength="37" lengthAdjust="spacingAndGlyphs" font-size="7.7" fill="#666">Commutator</text>
<text transform="translate(446.64 149.95) rotate(90)" textLength="19.5" lengthAdjust="spacingAndGlyphs" font-size="7.1" fill="#666">10/100</text>
<rect x="535.75" y="139.4" width="24.4" height="41" fill="#fff" stroke="#555" stroke-width="0.8"/>
<line x1="560.45" y1="139.7" x2="560.45" y2="180.7" stroke="#a0a0a0" stroke-width="1.0"/>
<line x1="536.05" y1="180.7" x2="560.45" y2="180.7" stroke="#b0b0b0" stroke-width="0.5"/>
<line x1="550.85" y1="139.4" x2="550.85" y2="180.4" stroke="#555" stroke-width="0.8"/>
<use href="#comm" x="535.75" y="139.4"/>
<text transform="translate(544.18 141.2) rotate(90)" textLength="37" lengthAdjust="spacingAndGlyphs" font-size="7.7" fill="#666">Commutator</text>
<text transform="translate(536.89 149.95) rotate(90)" textLength="19.5" lengthAdjust="spacingAndGlyphs" font-size="7.1" fill="#666">10/100</text>
<rect x="593.25" y="139.4" width="24.4" height="41" fill="#fff" stroke="#555" stroke-width="0.8"/>
<line x1="617.95" y1="139.7" x2="617.95" y2="180.7" stroke="#a0a0a0" stroke-width="1.0"/>
<line x1="593.55" y1="180.7" x2="617.95" y2="180.7" stroke="#b0b0b0" stroke-width="0.5"/>
<line x1="608.35" y1="139.4" x2="608.35" y2="180.4" stroke="#555" stroke-width="0.8"/>
<use href="#comm" x="593.25" y="139.4"/>
<text transform="translate(601.68 141.2) rotate(90)" textLength="37" lengthAdjust="spacingAndGlyphs" font-size="7.7" fill="#666">Commutator</text>
<text transform="translate(594.39 149.95) rotate(90)" textLength="19.5" lengthAdjust="spacingAndGlyphs" font-size="7.1" fill="#666">10/100</text>
<use href="#srv" x="375.6" y="188.3"/>
<text transform="translate(376.48 193.95) rotate(90)" textLength="18.9" lengthAdjust="spacingAndGlyphs" font-size="7.0" fill="#666">Server</text>
<line x1="384.3" y1="97" x2="384.3" y2="103.3" stroke="#383838" stroke-width="0.65"/>
<line x1="421.5" y1="97" x2="421.5" y2="103.3" stroke="#383838" stroke-width="0.65"/>
<line x1="384.3" y1="103.3" x2="482.3" y2="103.3" stroke="#383838" stroke-width="0.65"/>
<line x1="458.6" y1="97" x2="458.6" y2="139.4" stroke="#383838" stroke-width="0.65"/>
<line x1="482.3" y1="46.3" x2="482.3" y2="103.3" stroke="#383838" stroke-width="0.65"/>
<line x1="482.3" y1="46.3" x2="490.5" y2="46.3" stroke="#383838" stroke-width="0.65"/>
<line x1="482.3" y1="74.6" x2="490.5" y2="74.6" stroke="#383838" stroke-width="0.65"/>
<line x1="482.3" y1="103.3" x2="490.5" y2="103.3" stroke="#383838" stroke-width="0.65"/>
<polyline points="445.5,160.4 392.6,160.4 392.6,188.3" fill="none" stroke="#383838" stroke-width="0.65"/>
<line x1="470.3" y1="160.4" x2="535.75" y2="160.4" stroke="#383838" stroke-width="0.65"/>
<line x1="560.5" y1="160.4" x2="593.25" y2="160.4" stroke="#383838" stroke-width="0.65"/>
<line x1="548.6" y1="97" x2="548.6" y2="139.4" stroke="#383838" stroke-width="0.65"/>
<polyline points="584.6,97 584.6,123 622.3,123 622.3,97" fill="none" stroke="#383838" stroke-width="0.65"/>
<line x1="605.3" y1="123" x2="605.3" y2="139.4" stroke="#383838" stroke-width="0.65"/>
<line x1="548.6" y1="182.4" x2="548.6" y2="454.55" stroke="#181818" stroke-width="1.0"/>
<polygon points="548.6,181 546.8,184.8 550.4,184.8" fill="#000"/>
<text transform="translate(632.89 258.2) rotate(90)" text-anchor="middle" font-size="10.3" font-weight="bold" stroke="#000" stroke-width="0.22" fill="#000">Cafedra RTU&amp;S</text>
<line x1="179.2" y1="454.55" x2="596" y2="454.55" stroke="#181818" stroke-width="1.0"/>
<polygon points="597.2,454.55 593.4,452.75 593.4,456.35" fill="#000"/>
<rect x="597.4" y="422.1" width="16.2" height="66" fill="#fff" stroke="#555" stroke-width="0.6"/>
<rect x="600.3" y="422.4" width="10.7" height="38.8" fill="#000" stroke="none" stroke-width="0"/>
<rect x="600.3" y="465.7" width="10.7" height="22.2" fill="#000" stroke="none" stroke-width="0"/>
<line x1="597.4" y1="462.2" x2="613.6" y2="462.2" stroke="#555" stroke-width="0.5"/>
<line x1="597.4" y1="465" x2="613.6" y2="465" stroke="#555" stroke-width="0.5"/>
<line x1="613.8" y1="454.9" x2="662" y2="454.9" stroke="#000" stroke-width="1.8"/>
<polygon points="666.4,454.9 660.6,451.5 661.8,454.9 660.6,458.3" fill="#000"/>
<text transform="translate(608.32 491.6) rotate(90)" textLength="60.2" lengthAdjust="spacingAndGlyphs" font-size="8" font-weight="bold" stroke="#000" stroke-width="0.12" fill="#000">100/1000 Switch</text>
<text transform="translate(598.12 490.6) rotate(90)" textLength="62" lengthAdjust="spacingAndGlyphs" font-size="8" font-weight="bold" stroke="#000" stroke-width="0.12" fill="#000">1x1000 &amp; 14x100</text>
<rect x="15.5" y="443.4" width="155.3" height="145.0" rx="1" fill="none" stroke="#707070" stroke-width="0.7" stroke-dasharray="3.4 2.05"/>
<rect x="15.5" y="596.5" width="155.3" height="146.0" rx="1" fill="none" stroke="#707070" stroke-width="0.7" stroke-dasharray="3.4 2.05"/>
<rect x="15.5" y="750.25" width="155.3" height="80.25" rx="1" fill="none" stroke="#707070" stroke-width="0.7" stroke-dasharray="3.4 2.05"/>
<rect x="15.5" y="838.5" width="155.3" height="104.5" rx="1" fill="none" stroke="#707070" stroke-width="0.7" stroke-dasharray="3.4 2.05"/>
<rect x="23.4" y="451.25" width="33.3" height="63.25" fill="none" stroke="#555" stroke-width="0.8"/>
<line x1="33.45" y1="451.25" x2="33.45" y2="514.5" stroke="#555" stroke-width="0.8"/>
<text transform="translate(26.22 462.91) rotate(90)" textLength="37.69" lengthAdjust="spacingAndGlyphs" font-size="6.55" font-weight="bold" stroke="#000" stroke-width="0" fill="#000">(420а room)</text>
<use href="#pc" x="33.3" y="462.65"/>
<use href="#pc" x="33.3" y="482.98"/>
<use href="#pc" x="33.3" y="503.1"/>
<rect x="23.4" y="516.25" width="33.3" height="64.25" fill="none" stroke="#555" stroke-width="0.8"/>
<line x1="33.45" y1="516.25" x2="33.45" y2="580.5" stroke="#555" stroke-width="0.8"/>
<text transform="translate(26.22 530.42) rotate(90)" textLength="34" lengthAdjust="spacingAndGlyphs" font-size="6.55" font-weight="bold" stroke="#000" stroke-width="0" fill="#000">(420 room)</text>
<use href="#pc" x="33.3" y="527.65"/>
<use href="#pc" x="33.3" y="548.48"/>
<use href="#pc" x="33.3" y="569.1"/>
<rect x="72.4" y="495.4" width="24.4" height="41" fill="#fff" stroke="#555" stroke-width="0.8"/>
<line x1="97.1" y1="495.7" x2="97.1" y2="536.7" stroke="#a0a0a0" stroke-width="1.0"/>
<line x1="72.7" y1="536.7" x2="97.1" y2="536.7" stroke="#b0b0b0" stroke-width="0.5"/>
<line x1="87.5" y1="495.4" x2="87.5" y2="536.4" stroke="#555" stroke-width="0.8"/>
<use href="#comm" x="72.4" y="495.4"/>
<text transform="translate(80.83 497.2) rotate(90)" textLength="37" lengthAdjust="spacingAndGlyphs" font-size="7.7" fill="#666">Commutator</text>
<text transform="translate(73.54 505.95) rotate(90)" textLength="19.5" lengthAdjust="spacingAndGlyphs" font-size="7.1" fill="#666">10/100</text>
<use href="#srv" x="109.2" y="500.3"/>
<text transform="translate(110.08 505.95) rotate(90)" textLength="18.9" lengthAdjust="spacingAndGlyphs" font-size="7.0" fill="#666">Server</text>
<line x1="64.5" y1="482.9" x2="64.5" y2="548.4" stroke="#181818" stroke-width="0.6"/>
<line x1="58.7" y1="482.9" x2="64.5" y2="482.9" stroke="#181818" stroke-width="0.6"/>
<polygon points="57.2,482.9 61,481.1 61,484.7" fill="#000"/>
<line x1="58.7" y1="548.4" x2="64.5" y2="548.4" stroke="#181818" stroke-width="0.6"/>
<polygon points="57.2,548.4 61,546.6 61,550.2" fill="#000"/>
<line x1="64.5" y1="515.6" x2="70.4" y2="515.6" stroke="#181818" stroke-width="0.6"/>
<polygon points="72.1,515.6 68.3,513.8 68.3,517.4" fill="#000"/>
<line x1="98.3" y1="515.6" x2="108" y2="515.6" stroke="#181818" stroke-width="0.9"/>
<polygon points="97.3,515.6 101.1,513.8 101.1,517.4" fill="#000"/>
<polygon points="109,515.6 105.2,513.8 105.2,517.4" fill="#000"/>
<polyline points="85.1,538.4 85.1,549.1 179.2,549.1" fill="none" stroke="#181818" stroke-width="1.15"/>
<polygon points="85.1,536.9 83,541.2 87.2,541.2" fill="#000"/>
<rect x="23.4" y="604.25" width="33.3" height="63.75" fill="none" stroke="#555" stroke-width="0.8"/>
<line x1="33.45" y1="604.25" x2="33.45" y2="668" stroke="#555" stroke-width="0.8"/>
<text transform="translate(26.22 616.16) rotate(90)" textLength="37.69" lengthAdjust="spacingAndGlyphs" font-size="6.55" font-weight="bold" stroke="#000" stroke-width="0" fill="#000">(419а room)</text>
<use href="#pc" x="33.3" y="615.65"/>
<use href="#pc" x="33.3" y="636.23"/>
<use href="#pc" x="33.3" y="656.6"/>
<rect x="23.4" y="669.5" width="33.3" height="63.9" fill="none" stroke="#555" stroke-width="0.8"/>
<line x1="33.45" y1="669.5" x2="33.45" y2="733.4" stroke="#555" stroke-width="0.8"/>
<text transform="translate(26.22 683.49) rotate(90)" textLength="34" lengthAdjust="spacingAndGlyphs" font-size="6.55" font-weight="bold" stroke="#000" stroke-width="0" fill="#000">(419 room)</text>
<use href="#pc" x="33.3" y="680.9"/>
<use href="#pc" x="33.3" y="701.55"/>
<use href="#pc" x="33.3" y="722"/>
<rect x="72.4" y="648.5" width="24.4" height="41" fill="#fff" stroke="#555" stroke-width="0.8"/>
<line x1="97.1" y1="648.8" x2="97.1" y2="689.8" stroke="#a0a0a0" stroke-width="1.0"/>
<line x1="72.7" y1="689.8" x2="97.1" y2="689.8" stroke="#b0b0b0" stroke-width="0.5"/>
<line x1="87.5" y1="648.5" x2="87.5" y2="689.5" stroke="#555" stroke-width="0.8"/>
<use href="#comm" x="72.4" y="648.5"/>
<text transform="translate(80.83 650.3) rotate(90)" textLength="37" lengthAdjust="spacingAndGlyphs" font-size="7.7" fill="#666">Commutator</text>
<text transform="translate(73.54 659.05) rotate(90)" textLength="19.5" lengthAdjust="spacingAndGlyphs" font-size="7.1" fill="#666">10/100</text>
<use href="#srv" x="109.2" y="653.4"/>
<text transform="translate(110.08 659.05) rotate(90)" textLength="18.9" lengthAdjust="spacingAndGlyphs" font-size="7.0" fill="#666">Server</text>
<line x1="64.5" y1="636" x2="64.5" y2="701.5" stroke="#181818" stroke-width="0.6"/>
<line x1="58.7" y1="636" x2="64.5" y2="636" stroke="#181818" stroke-width="0.6"/>
<polygon points="57.2,636 61,634.2 61,637.8" fill="#000"/>
<line x1="58.7" y1="701.5" x2="64.5" y2="701.5" stroke="#181818" stroke-width="0.6"/>
<polygon points="57.2,701.5 61,699.7 61,703.3" fill="#000"/>
<line x1="64.5" y1="668.75" x2="70.4" y2="668.75" stroke="#181818" stroke-width="0.6"/>
<polygon points="72.1,668.75 68.3,666.95 68.3,670.55" fill="#000"/>
<line x1="98.3" y1="668.75" x2="108" y2="668.75" stroke="#181818" stroke-width="0.9"/>
<polygon points="97.3,668.75 101.1,666.95 101.1,670.55" fill="#000"/>
<polygon points="109,668.75 105.2,666.95 105.2,670.55" fill="#000"/>
<polyline points="85.1,691.5 85.1,702.25 179.2,702.25" fill="none" stroke="#181818" stroke-width="1.15"/>
<polygon points="85.1,690 83,694.3 87.2,694.3" fill="#000"/>
<rect x="23.4" y="758.5" width="33.3" height="63.5" fill="none" stroke="#555" stroke-width="0.8"/>
<line x1="33.45" y1="758.5" x2="33.45" y2="822" stroke="#555" stroke-width="0.8"/>
<text transform="translate(26.22 769.28) rotate(90)" textLength="39.54" lengthAdjust="spacingAndGlyphs" font-size="6.55" font-weight="bold" stroke="#000" stroke-width="0" fill="#000">7 (418 room)</text>
<use href="#pc" x="33.3" y="769.9"/>
<use href="#pc" x="33.3" y="790.35"/>
<use href="#pc" x="33.3" y="810.6"/>
<rect x="72.4" y="769.7" width="24.4" height="41" fill="#fff" stroke="#555" stroke-width="0.8"/>
<line x1="97.1" y1="770" x2="97.1" y2="811" stroke="#a0a0a0" stroke-width="1.0"/>
<line x1="72.7" y1="811" x2="97.1" y2="811" stroke="#b0b0b0" stroke-width="0.5"/>
<line x1="87.5" y1="769.7" x2="87.5" y2="810.7" stroke="#555" stroke-width="0.8"/>
<use href="#comm" x="72.4" y="769.7"/>
<text transform="translate(80.83 771.5) rotate(90)" textLength="37" lengthAdjust="spacingAndGlyphs" font-size="7.7" fill="#666">Commutator</text>
<text transform="translate(73.54 780.25) rotate(90)" textLength="19.5" lengthAdjust="spacingAndGlyphs" font-size="7.1" fill="#666">10/100</text>
<use href="#srv" x="109.2" y="775"/>
<text transform="translate(110.08 780.65) rotate(90)" textLength="18.9" lengthAdjust="spacingAndGlyphs" font-size="7.0" fill="#666">Server</text>
<line x1="58.1" y1="790.25" x2="71.1" y2="790.25" stroke="#181818" stroke-width="0.6"/>
<polygon points="57.1,790.25 60.9,788.45 60.9,792.05" fill="#000"/>
<polygon points="72.1,790.25 68.3,788.45 68.3,792.05" fill="#000"/>
<line x1="98.3" y1="790.25" x2="108" y2="790.25" stroke="#181818" stroke-width="0.9"/>
<polygon points="97.3,790.25 101.1,788.45 101.1,792.05" fill="#000"/>
<polygon points="109,790.25 105.2,788.45 105.2,792.05" fill="#000"/>
<polyline points="85.1,812.7 85.1,823.75 179.2,823.75" fill="none" stroke="#181818" stroke-width="1.15"/>
<polygon points="85.1,811.2 83,815.5 87.2,815.5" fill="#000"/>
<rect x="23.4" y="847" width="33.3" height="63.9" fill="none" stroke="#555" stroke-width="0.8"/>
<line x1="33.45" y1="847" x2="33.45" y2="910.9" stroke="#555" stroke-width="0.8"/>
<text transform="translate(26.22 855.97) rotate(90)" textLength="43.24" lengthAdjust="spacingAndGlyphs" font-size="6.55" font-weight="bold" stroke="#000" stroke-width="0" fill="#000">7 (417а room)</text>
<use href="#pc" x="33.3" y="858.4"/>
<use href="#pc" x="33.3" y="879.05"/>
<use href="#pc" x="33.3" y="899.5"/>
<rect x="23.4" y="912.5" width="33.3" height="22.7" fill="none" stroke="#555" stroke-width="0.8"/>
<line x1="33.45" y1="912.5" x2="33.45" y2="935.2" stroke="#555" stroke-width="0.8"/>
<text transform="translate(26.22 915.82) rotate(90)" textLength="15.71" lengthAdjust="spacingAndGlyphs" font-size="6.55" font-weight="bold" stroke="#000" stroke-width="0" fill="#000">417 г</text>
<use href="#pc" x="33.3" y="923.85"/>
<rect x="72.4" y="871.3" width="24.4" height="41" fill="#fff" stroke="#555" stroke-width="0.8"/>
<line x1="97.1" y1="871.6" x2="97.1" y2="912.6" stroke="#a0a0a0" stroke-width="1.0"/>
<line x1="72.7" y1="912.6" x2="97.1" y2="912.6" stroke="#b0b0b0" stroke-width="0.5"/>
<line x1="87.5" y1="871.3" x2="87.5" y2="912.3" stroke="#555" stroke-width="0.8"/>
<use href="#comm" x="72.4" y="871.3"/>
<text transform="translate(80.83 873.1) rotate(90)" textLength="37" lengthAdjust="spacingAndGlyphs" font-size="7.7" fill="#666">Commutator</text>
<text transform="translate(73.54 881.85) rotate(90)" textLength="19.5" lengthAdjust="spacingAndGlyphs" font-size="7.1" fill="#666">10/100</text>
<use href="#srv" x="109.2" y="876.5"/>
<text transform="translate(110.08 882.15) rotate(90)" textLength="18.9" lengthAdjust="spacingAndGlyphs" font-size="7.0" fill="#666">Server</text>
<line x1="64.5" y1="878.75" x2="64.5" y2="924" stroke="#181818" stroke-width="0.6"/>
<line x1="58.7" y1="878.75" x2="64.5" y2="878.75" stroke="#181818" stroke-width="0.6"/>
<polygon points="57.2,878.75 61,876.95 61,880.55" fill="#000"/>
<line x1="58.7" y1="924" x2="64.5" y2="924" stroke="#181818" stroke-width="0.6"/>
<polygon points="57.2,924 61,922.2 61,925.8" fill="#000"/>
<line x1="64.5" y1="891.5" x2="70.4" y2="891.5" stroke="#181818" stroke-width="0.6"/>
<polygon points="72.1,891.5 68.3,889.7 68.3,893.3" fill="#000"/>
<line x1="98.3" y1="891.5" x2="108" y2="891.5" stroke="#181818" stroke-width="0.9"/>
<polygon points="97.3,891.5 101.1,889.7 101.1,893.3" fill="#000"/>
<polygon points="109,891.5 105.2,889.7 105.2,893.3" fill="#000"/>
<polyline points="85.1,914.3 85.1,925.4 179.2,925.4" fill="none" stroke="#181818" stroke-width="1.15"/>
<polygon points="85.1,912.8 83,917.1 87.2,917.1" fill="#000"/>
<text x="96.67" y="464.67" textLength="65.93" lengthAdjust="spacingAndGlyphs" font-size="10.2" font-weight="bold" stroke="#000" stroke-width="0.15" fill="#000">Dekanat FPM</text>
<text x="99.4" y="609.27" textLength="63.6" lengthAdjust="spacingAndGlyphs" font-size="10.2" font-weight="bold" stroke="#000" stroke-width="0.15" fill="#000">Dekanat AVT</text>
<text x="102.7" y="763.67" textLength="59.5" lengthAdjust="spacingAndGlyphs" font-size="10.2" font-weight="bold" stroke="#000" stroke-width="0.15" fill="#000">ONC SITMO</text>
<text x="109.37" y="856.27" textLength="47.83" lengthAdjust="spacingAndGlyphs" font-size="10.2" font-weight="bold" stroke="#000" stroke-width="0.15" fill="#000">UNTI&amp;MS</text>
<line x1="179.2" y1="454.55" x2="179.2" y2="925.4" stroke="#181818" stroke-width="1.0"/>
<rect x="187.5" y="477.5" width="156" height="81.9" fill="none" stroke="#707070" stroke-width="0.7" stroke-dasharray="3.4 2.05"/>
<rect x="187.5" y="563.5" width="156" height="125.9" fill="none" stroke="#707070" stroke-width="0.7" stroke-dasharray="3.4 2.05"/>
<rect x="187.5" y="693.1" width="156" height="77.5" fill="none" stroke="#707070" stroke-width="0.7" stroke-dasharray="3.4 2.05"/>
<rect x="187.5" y="778.6" width="156" height="78.6" fill="none" stroke="#707070" stroke-width="0.7" stroke-dasharray="3.4 2.05"/>
<rect x="187.5" y="865" width="156" height="78" fill="none" stroke="#707070" stroke-width="0.7" stroke-dasharray="3.4 2.05"/>
<rect x="195.5" y="485.5" width="33.1" height="63.75" fill="none" stroke="#555" stroke-width="0.8"/>
<line x1="206" y1="485.5" x2="206" y2="549.25" stroke="#555" stroke-width="0.8"/>
<text transform="translate(198.54 494.4) rotate(90)" textLength="43.24" lengthAdjust="spacingAndGlyphs" font-size="6.55" font-weight="bold" stroke="#000" stroke-width="0" fill="#000">13 (412 room)</text>
<use href="#pc" x="205.4" y="496.9"/>
<use href="#pc" x="205.4" y="517.48"/>
<use href="#pc" x="205.4" y="537.85"/>
<rect x="244.25" y="497.1" width="25.35" height="41" fill="#fff" stroke="#555" stroke-width="0.8"/>
<line x1="269.9" y1="497.4" x2="269.9" y2="538.4" stroke="#a0a0a0" stroke-width="1.0"/>
<line x1="244.55" y1="538.4" x2="269.9" y2="538.4" stroke="#b0b0b0" stroke-width="0.5"/>
<line x1="260.75" y1="497.1" x2="260.75" y2="538.1" stroke="#555" stroke-width="0.8"/>
<use href="#comm" x="244.72" y="497.1"/>
<text transform="translate(253.15 498.9) rotate(90)" textLength="37" lengthAdjust="spacingAndGlyphs" font-size="7.7" fill="#666">Commutator</text>
<text transform="translate(245.39 507.65) rotate(90)" textLength="19.5" lengthAdjust="spacingAndGlyphs" font-size="7.1" fill="#666">10/100</text>
<use href="#srv" x="281.5" y="501.6"/>
<text transform="translate(282.38 507.25) rotate(90)" textLength="18.9" lengthAdjust="spacingAndGlyphs" font-size="7.0" fill="#666">Server</text>
<line x1="230" y1="517.1" x2="242.95" y2="517.1" stroke="#181818" stroke-width="0.6"/>
<polygon points="229,517.1 232.8,515.3 232.8,518.9" fill="#000"/>
<polygon points="243.95,517.1 240.15,515.3 240.15,518.9" fill="#000"/>
<line x1="271.1" y1="517.1" x2="280.3" y2="517.1" stroke="#181818" stroke-width="0.9"/>
<polygon points="270.1,517.1 273.9,515.3 273.9,518.9" fill="#000"/>
<polygon points="281.3,517.1 277.5,515.3 277.5,518.9" fill="#000"/>
<polyline points="257.15,540.1 257.15,550.9 351.5,550.9" fill="none" stroke="#181818" stroke-width="1.15"/>
<polygon points="257.15,538.6 255.05,542.9 259.25,542.9" fill="#000"/>
<rect x="195.5" y="571.25" width="33.1" height="63.75" fill="none" stroke="#555" stroke-width="0.8"/>
<line x1="206" y1="571.25" x2="206" y2="635" stroke="#555" stroke-width="0.8"/>
<text transform="translate(198.54 583.16) rotate(90)" textLength="37.69" lengthAdjust="spacingAndGlyphs" font-size="6.55" font-weight="bold" stroke="#000" stroke-width="0" fill="#000">(413а room)</text>
<use href="#pc" x="205.4" y="582.65"/>
<use href="#pc" x="205.4" y="603.23"/>
<use href="#pc" x="205.4" y="623.6"/>
<rect x="195.5" y="637.5" width="33.1" height="43.4" fill="none" stroke="#555" stroke-width="0.8"/>
<line x1="206" y1="637.5" x2="206" y2="680.9" stroke="#555" stroke-width="0.8"/>
<text transform="translate(198.54 641.24) rotate(90)" textLength="34" lengthAdjust="spacingAndGlyphs" font-size="6.55" font-weight="bold" stroke="#000" stroke-width="0" fill="#000">(413 room)</text>
<use href="#pc" x="205.4" y="648.5"/>
<use href="#pc" x="205.4" y="669.7"/>
<rect x="244.25" y="615.6" width="25.35" height="41" fill="#fff" stroke="#555" stroke-width="0.8"/>
<line x1="269.9" y1="615.9" x2="269.9" y2="656.9" stroke="#a0a0a0" stroke-width="1.0"/>
<line x1="244.55" y1="656.9" x2="269.9" y2="656.9" stroke="#b0b0b0" stroke-width="0.5"/>
<line x1="260.75" y1="615.6" x2="260.75" y2="656.6" stroke="#555" stroke-width="0.8"/>
<use href="#comm" x="244.72" y="615.6"/>
<text transform="translate(253.15 617.4) rotate(90)" textLength="37" lengthAdjust="spacingAndGlyphs" font-size="7.7" fill="#666">Commutator</text>
<text transform="translate(245.39 626.15) rotate(90)" textLength="19.5" lengthAdjust="spacingAndGlyphs" font-size="7.1" fill="#666">10/100</text>
<use href="#srv" x="281.5" y="621.2"/>
<text transform="translate(282.38 626.85) rotate(90)" textLength="18.9" lengthAdjust="spacingAndGlyphs" font-size="7.0" fill="#666">Server</text>
<line x1="236.6" y1="603.1" x2="236.6" y2="669" stroke="#181818" stroke-width="0.6"/>
<line x1="230.6" y1="603.1" x2="236.6" y2="603.1" stroke="#181818" stroke-width="0.6"/>
<polygon points="229.1,603.1 232.9,601.3 232.9,604.9" fill="#000"/>
<line x1="230.6" y1="669" x2="236.6" y2="669" stroke="#181818" stroke-width="0.6"/>
<polygon points="229.1,669 232.9,667.2 232.9,670.8" fill="#000"/>
<line x1="236.6" y1="636.25" x2="242.25" y2="636.25" stroke="#181818" stroke-width="0.6"/>
<polygon points="243.95,636.25 240.15,634.45 240.15,638.05" fill="#000"/>
<line x1="271.1" y1="636.25" x2="280.3" y2="636.25" stroke="#181818" stroke-width="0.9"/>
<polygon points="270.1,636.25 273.9,634.45 273.9,638.05" fill="#000"/>
<polygon points="281.3,636.25 277.5,634.45 277.5,638.05" fill="#000"/>
<polyline points="257.15,658.6 257.15,669.4 351.5,669.4" fill="none" stroke="#181818" stroke-width="1.15"/>
<polygon points="257.15,657.1 255.05,661.4 259.25,661.4" fill="#000"/>
<rect x="195.5" y="700.75" width="33.1" height="64.25" fill="none" stroke="#555" stroke-width="0.8"/>
<line x1="206" y1="700.75" x2="206" y2="765" stroke="#555" stroke-width="0.8"/>
<text transform="translate(198.54 709.9) rotate(90)" textLength="43.24" lengthAdjust="spacingAndGlyphs" font-size="6.55" font-weight="bold" stroke="#000" stroke-width="0" fill="#000">12 (414 room)</text>
<use href="#pc" x="205.4" y="712.15"/>
<use href="#pc" x="205.4" y="732.98"/>
<use href="#pc" x="205.4" y="753.6"/>
<rect x="244.25" y="712.5" width="25.35" height="41" fill="#fff" stroke="#555" stroke-width="0.8"/>
<line x1="269.9" y1="712.8" x2="269.9" y2="753.8" stroke="#a0a0a0" stroke-width="1.0"/>
<line x1="244.55" y1="753.8" x2="269.9" y2="753.8" stroke="#b0b0b0" stroke-width="0.5"/>
<line x1="260.75" y1="712.5" x2="260.75" y2="753.5" stroke="#555" stroke-width="0.8"/>
<use href="#comm" x="244.72" y="712.5"/>
<text transform="translate(253.15 714.3) rotate(90)" textLength="37" lengthAdjust="spacingAndGlyphs" font-size="7.7" fill="#666">Commutator</text>
<text transform="translate(245.39 723.05) rotate(90)" textLength="19.5" lengthAdjust="spacingAndGlyphs" font-size="7.1" fill="#666">10/100</text>
<use href="#srv" x="281.5" y="717.3"/>
<text transform="translate(282.38 722.95) rotate(90)" textLength="18.9" lengthAdjust="spacingAndGlyphs" font-size="7.0" fill="#666">Server</text>
<line x1="230" y1="732.9" x2="242.95" y2="732.9" stroke="#181818" stroke-width="0.6"/>
<polygon points="229,732.9 232.8,731.1 232.8,734.7" fill="#000"/>
<polygon points="243.95,732.9 240.15,731.1 240.15,734.7" fill="#000"/>
<line x1="271.1" y1="732.9" x2="280.3" y2="732.9" stroke="#181818" stroke-width="0.9"/>
<polygon points="270.1,732.9 273.9,731.1 273.9,734.7" fill="#000"/>
<polygon points="281.3,732.9 277.5,731.1 277.5,734.7" fill="#000"/>
<polyline points="257.15,755.5 257.15,766 351.5,766" fill="none" stroke="#181818" stroke-width="1.15"/>
<polygon points="257.15,754 255.05,758.3 259.25,758.3" fill="#000"/>
<rect x="195.5" y="787" width="33.1" height="64.25" fill="none" stroke="#555" stroke-width="0.8"/>
<line x1="206" y1="787" x2="206" y2="851.25" stroke="#555" stroke-width="0.8"/>
<text transform="translate(198.54 798.15) rotate(90)" textLength="39.54" lengthAdjust="spacingAndGlyphs" font-size="6.55" font-weight="bold" stroke="#000" stroke-width="0" fill="#000">7 (415 room)</text>
<use href="#pc" x="205.4" y="798.4"/>
<use href="#pc" x="205.4" y="819.23"/>
<use href="#pc" x="205.4" y="839.85"/>
<rect x="244.25" y="798.6" width="25.35" height="41" fill="#fff" stroke="#555" stroke-width="0.8"/>
<line x1="269.9" y1="798.9" x2="269.9" y2="839.9" stroke="#a0a0a0" stroke-width="1.0"/>
<line x1="244.55" y1="839.9" x2="269.9" y2="839.9" stroke="#b0b0b0" stroke-width="0.5"/>
<line x1="260.75" y1="798.6" x2="260.75" y2="839.6" stroke="#555" stroke-width="0.8"/>
<use href="#comm" x="244.72" y="798.6"/>
<text transform="translate(253.15 800.4) rotate(90)" textLength="37" lengthAdjust="spacingAndGlyphs" font-size="7.7" fill="#666">Commutator</text>
<text transform="translate(245.39 809.15) rotate(90)" textLength="19.5" lengthAdjust="spacingAndGlyphs" font-size="7.1" fill="#666">10/100</text>
<use href="#srv" x="281.5" y="803.5"/>
<text transform="translate(282.38 809.15) rotate(90)" textLength="18.9" lengthAdjust="spacingAndGlyphs" font-size="7.0" fill="#666">Server</text>
<line x1="230" y1="818.7" x2="242.95" y2="818.7" stroke="#181818" stroke-width="0.6"/>
<polygon points="229,818.7 232.8,816.9 232.8,820.5" fill="#000"/>
<polygon points="243.95,818.7 240.15,816.9 240.15,820.5" fill="#000"/>
<line x1="271.1" y1="818.7" x2="280.3" y2="818.7" stroke="#181818" stroke-width="0.9"/>
<polygon points="270.1,818.7 273.9,816.9 273.9,820.5" fill="#000"/>
<polygon points="281.3,818.7 277.5,816.9 277.5,820.5" fill="#000"/>
<polyline points="257.15,841.6 257.15,852.2 351.5,852.2" fill="none" stroke="#181818" stroke-width="1.15"/>
<polygon points="257.15,840.1 255.05,844.4 259.25,844.4" fill="#000"/>
<rect x="195.5" y="872.5" width="33.1" height="64.5" fill="none" stroke="#555" stroke-width="0.8"/>
<line x1="206" y1="872.5" x2="206" y2="937" stroke="#555" stroke-width="0.8"/>
<text transform="translate(198.54 881.77) rotate(90)" textLength="43.24" lengthAdjust="spacingAndGlyphs" font-size="6.55" font-weight="bold" stroke="#000" stroke-width="0" fill="#000">14 (416 room)</text>
<use href="#pc" x="205.4" y="883.9"/>
<use href="#pc" x="205.4" y="904.85"/>
<use href="#pc" x="205.4" y="925.6"/>
<rect x="244.25" y="884.4" width="25.35" height="41" fill="#fff" stroke="#555" stroke-width="0.8"/>
<line x1="269.9" y1="884.7" x2="269.9" y2="925.7" stroke="#a0a0a0" stroke-width="1.0"/>
<line x1="244.55" y1="925.7" x2="269.9" y2="925.7" stroke="#b0b0b0" stroke-width="0.5"/>
<line x1="260.75" y1="884.4" x2="260.75" y2="925.4" stroke="#555" stroke-width="0.8"/>
<use href="#comm" x="244.72" y="884.4"/>
<text transform="translate(253.15 886.2) rotate(90)" textLength="37" lengthAdjust="spacingAndGlyphs" font-size="7.7" fill="#666">Commutator</text>
<text transform="translate(245.39 894.95) rotate(90)" textLength="19.5" lengthAdjust="spacingAndGlyphs" font-size="7.1" fill="#666">10/100</text>
<use href="#srv" x="281.5" y="889.75"/>
<text transform="translate(282.38 895.4) rotate(90)" textLength="18.9" lengthAdjust="spacingAndGlyphs" font-size="7.0" fill="#666">Server</text>
<line x1="230" y1="904.75" x2="242.95" y2="904.75" stroke="#181818" stroke-width="0.6"/>
<polygon points="229,904.75 232.8,902.95 232.8,906.55" fill="#000"/>
<polygon points="243.95,904.75 240.15,902.95 240.15,906.55" fill="#000"/>
<line x1="271.1" y1="904.75" x2="280.3" y2="904.75" stroke="#181818" stroke-width="0.9"/>
<polygon points="270.1,904.75 273.9,902.95 273.9,906.55" fill="#000"/>
<polygon points="281.3,904.75 277.5,902.95 277.5,906.55" fill="#000"/>
<polyline points="257.15,927.4 257.15,938.5 351.5,938.5" fill="none" stroke="#181818" stroke-width="1.15"/>
<polygon points="257.15,925.9 255.05,930.2 259.25,930.2" fill="#000"/>
<text x="305.58" y="490.67" textLength="28.02" lengthAdjust="spacingAndGlyphs" font-size="10.2" font-weight="bold" stroke="#000" stroke-width="0.15" fill="#000">Class</text>
<text x="269.43" y="583.27" textLength="64.17" lengthAdjust="spacingAndGlyphs" font-size="10.2" font-weight="bold" stroke="#000" stroke-width="0.15" fill="#000">Dekanat RTF</text>
<text x="305.58" y="706.27" textLength="28.02" lengthAdjust="spacingAndGlyphs" font-size="10.2" font-weight="bold" stroke="#000" stroke-width="0.15" fill="#000">Class</text>
<text x="274.18" y="792.57" textLength="61.82" lengthAdjust="spacingAndGlyphs" font-size="10.2" font-weight="bold" stroke="#000" stroke-width="0.15" fill="#000">RTU&amp;C (lab)</text>
<text x="277.52" y="878.37" textLength="53.08" lengthAdjust="spacingAndGlyphs" font-size="10.2" font-weight="bold" stroke="#000" stroke-width="0.15" fill="#000">FM School</text>
<line x1="351.45" y1="454.55" x2="351.45" y2="938.5" stroke="#181818" stroke-width="1.0"/>
<rect x="359.3" y="485.5" width="156.2" height="149.5" fill="none" stroke="#666" stroke-width="0.8"/>
<rect x="359.3" y="639.3" width="156.2" height="170.1" fill="none" stroke="#707070" stroke-width="0.7" stroke-dasharray="3.4 2.05"/>
<line x1="400.5" y1="692.3" x2="515.5" y2="692.3" stroke="#707070" stroke-width="0.7" stroke-dasharray="3.4 2.05"/>
<rect x="359.3" y="818.3" width="156.2" height="124.7" fill="none" stroke="#707070" stroke-width="0.7" stroke-dasharray="3.4 2.05"/>
<rect x="367.3" y="493.75" width="33.4" height="22.5" fill="none" stroke="#555" stroke-width="0.8"/>
<line x1="377.3" y1="493.75" x2="377.3" y2="516.25" stroke="#555" stroke-width="0.8"/>
<text transform="translate(370.09 496.97) rotate(90)" textLength="15.71" lengthAdjust="spacingAndGlyphs" font-size="6.55" font-weight="bold" stroke="#000" stroke-width="0" fill="#000">404 г</text>
<use href="#pc" x="377.2" y="505"/>
<rect x="367.3" y="518.25" width="33.4" height="43.75" fill="none" stroke="#555" stroke-width="0.8"/>
<line x1="377.3" y1="518.25" x2="377.3" y2="562" stroke="#555" stroke-width="0.8"/>
<text transform="translate(370.09 522.56) rotate(90)" textLength="33.26" lengthAdjust="spacingAndGlyphs" font-size="6.55" font-weight="bold" stroke="#000" stroke-width="0" fill="#000">405а room</text>
<use href="#pc" x="377.2" y="529.25"/>
<use href="#pc" x="377.2" y="550.8"/>
<rect x="367.3" y="563.25" width="33.4" height="64.25" fill="none" stroke="#555" stroke-width="0.8"/>
<line x1="377.3" y1="563.25" x2="377.3" y2="627.5" stroke="#555" stroke-width="0.8"/>
<text transform="translate(370.09 574.4) rotate(90)" textLength="39.54" lengthAdjust="spacingAndGlyphs" font-size="6.55" font-weight="bold" stroke="#000" stroke-width="0" fill="#000">8 (405 room)</text>
<use href="#pc" x="377.2" y="574.65"/>
<use href="#pc" x="377.2" y="595.48"/>
<use href="#pc" x="377.2" y="616.1"/>
<rect x="416.25" y="541.3" width="25.35" height="41" fill="#fff" stroke="#555" stroke-width="0.8"/>
<line x1="441.9" y1="541.6" x2="441.9" y2="582.6" stroke="#a0a0a0" stroke-width="1.0"/>
<line x1="416.55" y1="582.6" x2="441.9" y2="582.6" stroke="#b0b0b0" stroke-width="0.5"/>
<line x1="432.75" y1="541.3" x2="432.75" y2="582.3" stroke="#555" stroke-width="0.8"/>
<use href="#comm" x="416.73" y="541.3"/>
<text transform="translate(425.15 543.1) rotate(90)" textLength="37" lengthAdjust="spacingAndGlyphs" font-size="7.7" fill="#666">Commutator</text>
<text transform="translate(417.39 551.85) rotate(90)" textLength="19.5" lengthAdjust="spacingAndGlyphs" font-size="7.1" fill="#666">10/100</text>
<use href="#srv" x="453.4" y="546.5"/>
<text transform="translate(454.28 552.15) rotate(90)" textLength="18.9" lengthAdjust="spacingAndGlyphs" font-size="7.0" fill="#666">Server</text>
<line x1="408.75" y1="505.25" x2="408.75" y2="595.4" stroke="#181818" stroke-width="0.6"/>
<line x1="402.7" y1="505.25" x2="408.75" y2="505.25" stroke="#181818" stroke-width="0.6"/>
<polygon points="401.2,505.25 405,503.45 405,507.05" fill="#000"/>
<line x1="402.7" y1="541" x2="408.75" y2="541" stroke="#181818" stroke-width="0.6"/>
<polygon points="401.2,541 405,539.2 405,542.8" fill="#000"/>
<line x1="402.7" y1="595.4" x2="408.75" y2="595.4" stroke="#181818" stroke-width="0.6"/>
<polygon points="401.2,595.4 405,593.6 405,597.2" fill="#000"/>
<line x1="408.75" y1="561.6" x2="414.25" y2="561.6" stroke="#181818" stroke-width="0.6"/>
<polygon points="415.95,561.6 412.15,559.8 412.15,563.4" fill="#000"/>
<line x1="443.1" y1="561.6" x2="452.2" y2="561.6" stroke="#181818" stroke-width="0.9"/>
<polygon points="442.1,561.6 445.9,559.8 445.9,563.4" fill="#000"/>
<polygon points="453.2,561.6 449.4,559.8 449.4,563.4" fill="#000"/>
<polyline points="429.15,584.3 429.15,595.6 523.7,595.6" fill="none" stroke="#181818" stroke-width="1.15"/>
<polygon points="429.15,582.8 427.05,587.1 431.25,587.1" fill="#000"/>
<rect x="367.3" y="647.5" width="33.4" height="43.25" fill="none" stroke="#555" stroke-width="0.8"/>
<line x1="377.3" y1="647.5" x2="377.3" y2="690.75" stroke="#555" stroke-width="0.8"/>
<text transform="translate(370.09 651.17) rotate(90)" textLength="34" lengthAdjust="spacingAndGlyphs" font-size="6.55" font-weight="bold" stroke="#000" stroke-width="0" fill="#000">(408 room)</text>
<use href="#pc" x="377.2" y="658.5"/>
<use href="#pc" x="377.2" y="679.55"/>
<rect x="367.3" y="693" width="33.4" height="43.25" fill="none" stroke="#555" stroke-width="0.8"/>
<line x1="377.3" y1="693" x2="377.3" y2="736.25" stroke="#555" stroke-width="0.8"/>
<text transform="translate(370.09 696.67) rotate(90)" textLength="34" lengthAdjust="spacingAndGlyphs" font-size="6.55" font-weight="bold" stroke="#000" stroke-width="0" fill="#000">(409 room)</text>
<use href="#pc" x="377.2" y="704"/>
<use href="#pc" x="377.2" y="725.05"/>
<rect x="367.3" y="737.5" width="33.4" height="64.25" fill="none" stroke="#555" stroke-width="0.8"/>
<line x1="377.3" y1="737.5" x2="377.3" y2="801.75" stroke="#555" stroke-width="0.8"/>
<text transform="translate(370.09 748.65) rotate(90)" textLength="39.54" lengthAdjust="spacingAndGlyphs" font-size="6.55" font-weight="bold" stroke="#000" stroke-width="0" fill="#000">4 (410 room)</text>
<use href="#pc" x="377.2" y="748.9"/>
<use href="#pc" x="377.2" y="769.73"/>
<use href="#pc" x="377.2" y="790.35"/>
<rect x="416.25" y="705.3" width="25.35" height="41" fill="#fff" stroke="#555" stroke-width="0.8"/>
<line x1="441.9" y1="705.6" x2="441.9" y2="746.6" stroke="#a0a0a0" stroke-width="1.0"/>
<line x1="416.55" y1="746.6" x2="441.9" y2="746.6" stroke="#b0b0b0" stroke-width="0.5"/>
<line x1="432.75" y1="705.3" x2="432.75" y2="746.3" stroke="#555" stroke-width="0.8"/>
<use href="#comm" x="416.73" y="705.3"/>
<text transform="translate(425.15 707.1) rotate(90)" textLength="37" lengthAdjust="spacingAndGlyphs" font-size="7.7" fill="#666">Commutator</text>
<text transform="translate(417.39 715.85) rotate(90)" textLength="19.5" lengthAdjust="spacingAndGlyphs" font-size="7.1" fill="#666">10/100</text>
<use href="#srv" x="453.4" y="710.4"/>
<text transform="translate(454.28 716.05) rotate(90)" textLength="18.9" lengthAdjust="spacingAndGlyphs" font-size="7.0" fill="#666">Server</text>
<line x1="408.75" y1="670" x2="408.75" y2="769.75" stroke="#181818" stroke-width="0.6"/>
<line x1="402.7" y1="670" x2="408.75" y2="670" stroke="#181818" stroke-width="0.6"/>
<polygon points="401.2,670 405,668.2 405,671.8" fill="#000"/>
<line x1="402.7" y1="714.6" x2="408.75" y2="714.6" stroke="#181818" stroke-width="0.6"/>
<polygon points="401.2,714.6 405,712.8 405,716.4" fill="#000"/>
<line x1="402.7" y1="769.75" x2="408.75" y2="769.75" stroke="#181818" stroke-width="0.6"/>
<polygon points="401.2,769.75 405,767.95 405,771.55" fill="#000"/>
<line x1="408.75" y1="725.25" x2="414.25" y2="725.25" stroke="#181818" stroke-width="0.6"/>
<polygon points="415.95,725.25 412.15,723.45 412.15,727.05" fill="#000"/>
<line x1="443.1" y1="725.25" x2="452.2" y2="725.25" stroke="#181818" stroke-width="0.9"/>
<polygon points="442.1,725.25 445.9,723.45 445.9,727.05" fill="#000"/>
<polygon points="453.2,725.25 449.4,723.45 449.4,727.05" fill="#000"/>
<polyline points="429.15,748.3 429.15,759.4 523.7,759.4" fill="none" stroke="#181818" stroke-width="1.15"/>
<polygon points="429.15,746.8 427.05,751.1 431.25,751.1" fill="#000"/>
<rect x="367.3" y="825.5" width="33.4" height="63.75" fill="none" stroke="#555" stroke-width="0.8"/>
<line x1="377.3" y1="825.5" x2="377.3" y2="889.25" stroke="#555" stroke-width="0.8"/>
<text transform="translate(370.09 836.6) rotate(90)" textLength="39.17" lengthAdjust="spacingAndGlyphs" font-size="6.55" font-weight="bold" stroke="#000" stroke-width="0" fill="#000">4 (411 room)</text>
<use href="#pc" x="377.2" y="836.9"/>
<use href="#pc" x="377.2" y="857.48"/>
<use href="#pc" x="377.2" y="877.85"/>
<rect x="367.3" y="891.25" width="33.4" height="43.25" fill="none" stroke="#555" stroke-width="0.8"/>
<line x1="377.3" y1="891.25" x2="377.3" y2="934.5" stroke="#555" stroke-width="0.8"/>
<text transform="translate(370.09 893.11) rotate(90)" textLength="37.33" lengthAdjust="spacingAndGlyphs" font-size="6.55" font-weight="bold" stroke="#000" stroke-width="0" fill="#000">(411а room)</text>
<use href="#pc" x="377.2" y="902.25"/>
<use href="#pc" x="377.2" y="923.3"/>
<rect x="416.25" y="860.6" width="25.35" height="41" fill="#fff" stroke="#555" stroke-width="0.8"/>
<line x1="441.9" y1="860.9" x2="441.9" y2="901.9" stroke="#a0a0a0" stroke-width="1.0"/>
<line x1="416.55" y1="901.9" x2="441.9" y2="901.9" stroke="#b0b0b0" stroke-width="0.5"/>
<line x1="432.75" y1="860.6" x2="432.75" y2="901.6" stroke="#555" stroke-width="0.8"/>
<use href="#comm" x="416.73" y="860.6"/>
<text transform="translate(425.15 862.4) rotate(90)" textLength="37" lengthAdjust="spacingAndGlyphs" font-size="7.7" fill="#666">Commutator</text>
<text transform="translate(417.39 871.15) rotate(90)" textLength="19.5" lengthAdjust="spacingAndGlyphs" font-size="7.1" fill="#666">10/100</text>
<use href="#srv" x="453.4" y="865.6"/>
<text transform="translate(454.28 871.25) rotate(90)" textLength="18.9" lengthAdjust="spacingAndGlyphs" font-size="7.0" fill="#666">Server</text>
<line x1="408.75" y1="857.25" x2="408.75" y2="912.75" stroke="#181818" stroke-width="0.6"/>
<line x1="402.7" y1="857.25" x2="408.75" y2="857.25" stroke="#181818" stroke-width="0.6"/>
<polygon points="401.2,857.25 405,855.45 405,859.05" fill="#000"/>
<line x1="402.7" y1="912.75" x2="408.75" y2="912.75" stroke="#181818" stroke-width="0.6"/>
<polygon points="401.2,912.75 405,910.95 405,914.55" fill="#000"/>
<line x1="408.75" y1="881" x2="414.25" y2="881" stroke="#181818" stroke-width="0.6"/>
<polygon points="415.95,881 412.15,879.2 412.15,882.8" fill="#000"/>
<line x1="443.1" y1="881" x2="452.2" y2="881" stroke="#181818" stroke-width="0.9"/>
<polygon points="442.1,881 445.9,879.2 445.9,882.8" fill="#000"/>
<polygon points="453.2,881 449.4,879.2 449.4,882.8" fill="#000"/>
<polyline points="429.15,903.6 429.15,914.6 523.7,914.6" fill="none" stroke="#181818" stroke-width="1.15"/>
<polygon points="429.15,902.1 427.05,906.4 431.25,906.4" fill="#000"/>
<text x="442.3" y="509.47" textLength="59.5" lengthAdjust="spacingAndGlyphs" font-size="10.2" font-weight="bold" stroke="#000" stroke-width="0.15" fill="#000">ONC SITMO</text>
<text x="470.11" y="657.07" textLength="31.49" lengthAdjust="spacingAndGlyphs" font-size="10.2" font-weight="bold" stroke="#000" stroke-width="0.15" fill="#000">Logos</text>
<text x="431.48" y="792.97" textLength="73.92" lengthAdjust="spacingAndGlyphs" font-size="10.2" font-weight="bold" stroke="#000" stroke-width="0.15" fill="#000">Kafedra TerVer</text>
<text x="435.05" y="837.47" textLength="65.35" lengthAdjust="spacingAndGlyphs" font-size="10.2" font-weight="bold" stroke="#000" stroke-width="0.15" fill="#000">Kafedra IsOp</text>
<line x1="523.7" y1="454.55" x2="523.7" y2="914.6" stroke="#181818" stroke-width="1.0"/>
<rect x="531.5" y="705.5" width="131.7" height="237.3" fill="none" stroke="#707070" stroke-width="0.7" stroke-dasharray="3.4 2.05"/>
<text transform="translate(649.59 733.8) rotate(90)" text-anchor="middle" font-size="10.3" font-weight="bold" stroke="#000" stroke-width="0.22" fill="#000">Kafedra</text>
<polyline points="523.7,696.3 597.4,696.3 597.4,772.6" fill="none" stroke="#181818" stroke-width="1.0"/>
<polygon points="597.4,774.5 595.4,770.1 599.4,770.1" fill="#000"/>
<use href="#srv" x="540.25" y="764.4"/>
<text transform="translate(541.13 770.05) rotate(90)" textLength="18.9" lengthAdjust="spacingAndGlyphs" font-size="7.0" fill="#666">Server</text>
<rect x="584.4" y="774.8" width="25.35" height="41" fill="#fff" stroke="#555" stroke-width="0.8"/>
<line x1="610.05" y1="775.1" x2="610.05" y2="816.1" stroke="#a0a0a0" stroke-width="1.0"/>
<line x1="584.7" y1="816.1" x2="610.05" y2="816.1" stroke="#b0b0b0" stroke-width="0.5"/>
<line x1="600.6" y1="774.8" x2="600.6" y2="815.8" stroke="#555" stroke-width="0.8"/>
<use href="#comm" x="584.88" y="774.8"/>
<text transform="translate(593.3 776.6) rotate(90)" textLength="37" lengthAdjust="spacingAndGlyphs" font-size="7.7" fill="#666">Commutator</text>
<text transform="translate(585.54 785.35) rotate(90)" textLength="19.5" lengthAdjust="spacingAndGlyphs" font-size="7.1" fill="#666">10/100</text>
<polyline points="576.4,780.6 579.75,780.6 579.75,795.25 581.2,795.25" fill="none" stroke="#181818" stroke-width="1.2"/>
<polygon points="573.2,780.6 576.8,778.7 576.8,782.5" fill="#000"/>
<polygon points="584.3,795.25 580.7,793.35 580.7,797.15" fill="#000"/>
<rect x="540.25" y="805" width="32.65" height="64" fill="none" stroke="#555" stroke-width="0.8"/>
<line x1="549.4" y1="805" x2="549.4" y2="869" stroke="#555" stroke-width="0.8"/>
<text transform="translate(542.62 816.03) rotate(90)" textLength="39.54" lengthAdjust="spacingAndGlyphs" font-size="6.55" font-weight="bold" stroke="#000" stroke-width="0" fill="#000">4 (401 room)</text>
<use href="#pc" x="550.15" y="816.4"/>
<use href="#pc" x="550.15" y="837.1"/>
<use href="#pc" x="550.15" y="857.6"/>
<rect x="540.25" y="870.6" width="32.65" height="63.7" fill="none" stroke="#555" stroke-width="0.8"/>
<line x1="549.4" y1="870.6" x2="549.4" y2="934.3" stroke="#555" stroke-width="0.8"/>
<text transform="translate(542.62 881.48) rotate(90)" textLength="39.54" lengthAdjust="spacingAndGlyphs" font-size="6.55" font-weight="bold" stroke="#000" stroke-width="0" fill="#000">3 (402 room)</text>
<use href="#pc" x="550.15" y="882"/>
<use href="#pc" x="550.15" y="902.55"/>
<use href="#pc" x="550.15" y="922.9"/>
<rect x="580.7" y="870.5" width="33.1" height="63.8" fill="none" stroke="#555" stroke-width="0.8"/>
<line x1="590.6" y1="870.5" x2="590.6" y2="934.3" stroke="#555" stroke-width="0.8"/>
<text transform="translate(583.44 881.43) rotate(90)" textLength="39.54" lengthAdjust="spacingAndGlyphs" font-size="6.55" font-weight="bold" stroke="#000" stroke-width="0" fill="#000">8 (406 room)</text>
<use href="#pc" x="590.6" y="881.9"/>
<use href="#pc" x="590.6" y="902.5"/>
<use href="#pc" x="590.6" y="922.9"/>
<rect x="621.9" y="791.4" width="32.9" height="43.8" fill="none" stroke="#555" stroke-width="0.8"/>
<line x1="631.7" y1="791.4" x2="631.7" y2="835.2" stroke="#555" stroke-width="0.8"/>
<text transform="translate(624.59 795.74) rotate(90)" textLength="33.26" lengthAdjust="spacingAndGlyphs" font-size="6.55" font-weight="bold" stroke="#000" stroke-width="0" fill="#000">403а room</text>
<use href="#pc" x="631.8" y="802.4"/>
<use href="#pc" x="631.8" y="824"/>
<rect x="621.9" y="840.7" width="32.9" height="43.7" fill="none" stroke="#555" stroke-width="0.8"/>
<line x1="631.7" y1="840.7" x2="631.7" y2="884.4" stroke="#555" stroke-width="0.8"/>
<text transform="translate(624.59 847) rotate(90)" textLength="29.57" lengthAdjust="spacingAndGlyphs" font-size="6.55" font-weight="bold" stroke="#000" stroke-width="0" fill="#000">403 room</text>
<use href="#pc" x="631.8" y="851.7"/>
<use href="#pc" x="631.8" y="873.2"/>
<rect x="621.9" y="891" width="32.9" height="43.3" fill="none" stroke="#555" stroke-width="0.8"/>
<line x1="631.7" y1="891" x2="631.7" y2="934.3" stroke="#555" stroke-width="0.8"/>
<text transform="translate(624.59 897.1) rotate(90)" textLength="29.57" lengthAdjust="spacingAndGlyphs" font-size="6.55" font-weight="bold" stroke="#000" stroke-width="0" fill="#000">407 room</text>
<use href="#pc" x="631.8" y="902"/>
<use href="#pc" x="631.8" y="923.1"/>
<line x1="597.4" y1="817.1" x2="597.4" y2="869.2" stroke="#181818" stroke-width="0.7"/>
<polygon points="597.4,816.1 595.6,819.9 599.2,819.9" fill="#000"/>
<polygon points="597.4,870.2 595.6,866.4 599.2,866.4" fill="#000"/>
<line x1="575" y1="837.2" x2="617.1" y2="837.2" stroke="#181818" stroke-width="1.0"/>
<polygon points="573.3,837.2 577.1,835.4 577.1,839" fill="#000"/>
<line x1="576.5" y1="837.2" x2="576.5" y2="902.6" stroke="#181818" stroke-width="0.7"/>
<line x1="575" y1="902.6" x2="576.5" y2="902.6" stroke="#181818" stroke-width="0.7"/>
<polygon points="573.3,902.6 577.1,900.8 577.1,904.4" fill="#000"/>
<line x1="617.1" y1="813.1" x2="617.1" y2="912.7" stroke="#181818" stroke-width="0.7"/>
<line x1="617.1" y1="813.1" x2="620" y2="813.1" stroke="#181818" stroke-width="0.7"/>
<polygon points="621.7,813.1 617.9,811.3 617.9,814.9" fill="#000"/>
<line x1="617.1" y1="862.3" x2="620" y2="862.3" stroke="#181818" stroke-width="0.7"/>
<polygon points="621.7,862.3 617.9,860.5 617.9,864.1" fill="#000"/>
<line x1="617.1" y1="912.7" x2="620" y2="912.7" stroke="#181818" stroke-width="0.7"/>
<polygon points="621.7,912.7 617.9,910.9 617.9,914.5" fill="#000"/>
</svg>
</body>
</html>
